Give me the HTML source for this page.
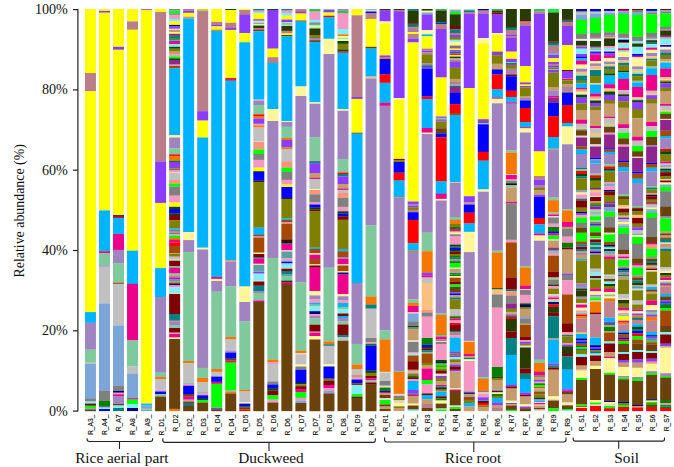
<!DOCTYPE html>
<html><head><meta charset="utf-8"><title>Relative abundance</title>
<style>
html,body{margin:0;padding:0;background:#fff;}
body{width:674px;height:467px;overflow:hidden;position:relative;font-family:"Liberation Serif",serif;}
svg{position:absolute;left:0;top:0;}
.yt{font-family:"Liberation Serif",serif;font-size:14.1px;fill:#111;}
.xl{font-family:"Liberation Sans",sans-serif;font-size:7.7px;fill:#111;stroke:#111;stroke-width:0.15;}
.gl{font-family:"Liberation Serif",serif;font-size:15.3px;fill:#111;}
.ax{stroke:#222;stroke-width:1.2;fill:none;}
.bk{stroke:#222;stroke-width:1.1;fill:none;}
</style></head><body>
<svg width="674" height="467" viewBox="0 0 674 467">
<rect x="0" y="0" width="674" height="467" fill="#ffffff"/>
<g style="filter:blur(0.3px)">
<g transform="translate(84.95,0)"><rect y="9.0" width="11.0" height="64.2" fill="#FFFF00"/><rect y="73.0" width="11.0" height="18.4" fill="#BA7E88"/><rect y="91.2" width="11.0" height="221.1" fill="#FFFF00"/><rect y="312.1" width="11.0" height="10.8" fill="#00B4FF"/><rect y="322.8" width="11.0" height="27.0" fill="#A084C0"/><rect y="349.7" width="11.0" height="13.1" fill="#7FC99C"/><rect y="362.6" width="11.0" height="1.5" fill="#C0C0C0"/><rect y="364.0" width="11.0" height="35.0" fill="#7CA5D8"/><rect y="398.8" width="11.0" height="2.8" fill="#808080"/><rect y="401.5" width="11.0" height="2.3" fill="#7FEFF5"/><rect y="403.6" width="11.0" height="2.2" fill="#800000"/><rect y="405.7" width="11.0" height="2.5" fill="#00FF00"/><rect y="408.0" width="11.0" height="1.5" fill="#7CA5D8"/><rect y="409.4" width="11.0" height="1.8" fill="#6B420C"/></g>
<g transform="translate(98.98,0)"><rect y="9.0" width="11.0" height="2.1" fill="#FFFF00"/><rect y="10.9" width="11.0" height="1.9" fill="#8C3CFF"/><rect y="12.7" width="11.0" height="197.9" fill="#FFFF00"/><rect y="210.4" width="11.0" height="40.9" fill="#00B4FF"/><rect y="251.2" width="11.0" height="2.0" fill="#EC008C"/><rect y="253.0" width="11.0" height="12.7" fill="#7FC99C"/><rect y="265.5" width="11.0" height="1.3" fill="#A084C0"/><rect y="266.7" width="11.0" height="36.8" fill="#C0C0C0"/><rect y="303.4" width="11.0" height="87.3" fill="#7CA5D8"/><rect y="390.5" width="11.0" height="10.3" fill="#808080"/><rect y="400.7" width="11.0" height="6.2" fill="#008000"/><rect y="406.7" width="11.0" height="1.1" fill="#A084C0"/><rect y="407.7" width="11.0" height="1.5" fill="#7FEFF5"/><rect y="409.0" width="11.0" height="2.1" fill="#0000FF"/></g>
<g transform="translate(113.01,0)"><rect y="9.0" width="11.0" height="37.9" fill="#FFFF00"/><rect y="46.8" width="11.0" height="3.1" fill="#8C3CFF"/><rect y="49.7" width="11.0" height="165.7" fill="#FFFF00"/><rect y="215.2" width="11.0" height="1.6" fill="#000080"/><rect y="216.6" width="11.0" height="1.6" fill="#FF0000"/><rect y="218.0" width="11.0" height="16.1" fill="#00B4FF"/><rect y="234.0" width="11.0" height="16.0" fill="#EC008C"/><rect y="249.8" width="11.0" height="13.5" fill="#A084C0"/><rect y="263.2" width="11.0" height="19.6" fill="#7FC99C"/><rect y="282.7" width="11.0" height="1.3" fill="#A54800"/><rect y="283.8" width="11.0" height="41.8" fill="#C0C0C0"/><rect y="325.5" width="11.0" height="60.3" fill="#7CA5D8"/><rect y="385.7" width="11.0" height="5.5" fill="#808080"/><rect y="391.0" width="11.0" height="1.8" fill="#000080"/><rect y="392.7" width="11.0" height="1.8" fill="#F497C3"/><rect y="394.3" width="11.0" height="1.8" fill="#EC008C"/><rect y="396.0" width="11.0" height="8.2" fill="#A084C0"/><rect y="404.0" width="11.0" height="1.6" fill="#6B420C"/><rect y="405.5" width="11.0" height="2.6" fill="#7FEFF5"/><rect y="408.0" width="11.0" height="3.1" fill="#008080"/></g>
<g transform="translate(127.04,0)"><rect y="9.0" width="11.0" height="12.5" fill="#FFFF00"/><rect y="21.4" width="11.0" height="8.5" fill="#BA7E88"/><rect y="29.7" width="11.0" height="221.2" fill="#FFFF00"/><rect y="250.7" width="11.0" height="33.3" fill="#00B4FF"/><rect y="283.8" width="11.0" height="56.7" fill="#EC008C"/><rect y="340.4" width="11.0" height="26.1" fill="#7FC99C"/><rect y="366.4" width="11.0" height="7.5" fill="#C0C0C0"/><rect y="373.7" width="11.0" height="24.6" fill="#7CA5D8"/><rect y="398.2" width="11.0" height="1.5" fill="#EC008C"/><rect y="399.5" width="11.0" height="4.7" fill="#00FF00"/><rect y="404.0" width="11.0" height="4.2" fill="#7FEFF5"/><rect y="408.0" width="11.0" height="3.1" fill="#000080"/></g>
<g transform="translate(141.07,0)"><rect y="9.0" width="11.0" height="1.0" fill="#8C3CFF"/><rect y="9.8" width="11.0" height="393.9" fill="#FFFF00"/><rect y="403.6" width="11.0" height="2.0" fill="#00B4FF"/><rect y="405.5" width="11.0" height="2.6" fill="#7CA5D8"/><rect y="408.0" width="11.0" height="1.6" fill="#7FC99C"/><rect y="409.5" width="11.0" height="1.6" fill="#7CA5D8"/></g>
<g transform="translate(155.10,0)"><rect y="9.0" width="11.0" height="3.1" fill="#FFFF00"/><rect y="12.0" width="11.0" height="149.7" fill="#BA7E88"/><rect y="161.5" width="11.0" height="41.6" fill="#8C3CFF"/><rect y="202.9" width="11.0" height="65.4" fill="#FFFF00"/><rect y="268.1" width="11.0" height="29.0" fill="#00B4FF"/><rect y="297.0" width="11.0" height="75.8" fill="#A084C0"/><rect y="372.6" width="11.0" height="4.5" fill="#7FC99C"/><rect y="377.0" width="11.0" height="2.1" fill="#F47800"/><rect y="379.0" width="11.0" height="10.7" fill="#C0C0C0"/><rect y="389.5" width="11.0" height="2.1" fill="#F497C3"/><rect y="391.5" width="11.0" height="2.6" fill="#0000FF"/><rect y="394.0" width="11.0" height="2.6" fill="#7FC99C"/><rect y="396.5" width="11.0" height="14.7" fill="#6B420C"/></g>
<g transform="translate(169.13,0)"><rect y="9.0" width="11.0" height="1.5" fill="#808080"/><rect y="10.3" width="11.0" height="3.7" fill="#20E840"/><rect y="13.9" width="11.0" height="1.6" fill="#BA7E88"/><rect y="15.3" width="11.0" height="3.7" fill="#F497C3"/><rect y="18.9" width="11.0" height="2.6" fill="#7FEFF5"/><rect y="21.4" width="11.0" height="3.6" fill="#FFFF00"/><rect y="24.9" width="11.0" height="1.6" fill="#000080"/><rect y="26.4" width="11.0" height="2.5" fill="#8C3CFF"/><rect y="28.7" width="11.0" height="1.3" fill="#E4D8C4"/><rect y="29.9" width="11.0" height="2.3" fill="#C69C6D"/><rect y="32.0" width="11.0" height="1.9" fill="#FFF599"/><rect y="33.8" width="11.0" height="1.4" fill="#FF0000"/><rect y="35.0" width="11.0" height="3.9" fill="#008080"/><rect y="38.8" width="11.0" height="1.6" fill="#808000"/><rect y="40.2" width="11.0" height="0.9" fill="#00B4FF"/><rect y="41.0" width="11.0" height="3.4" fill="#EC008C"/><rect y="44.2" width="11.0" height="2.7" fill="#7FEFF5"/><rect y="46.8" width="11.0" height="2.0" fill="#004800"/><rect y="48.6" width="11.0" height="3.1" fill="#808000"/><rect y="51.6" width="11.0" height="3.0" fill="#C69C6D"/><rect y="54.5" width="11.0" height="1.9" fill="#F497C3"/><rect y="56.3" width="11.0" height="2.3" fill="#00FF00"/><rect y="58.4" width="11.0" height="1.8" fill="#004800"/><rect y="60.0" width="11.0" height="4.7" fill="#8F268F"/><rect y="64.6" width="11.0" height="1.5" fill="#F497C3"/><rect y="65.9" width="11.0" height="2.4" fill="#A54800"/><rect y="68.2" width="11.0" height="67.1" fill="#00B4FF"/><rect y="135.2" width="11.0" height="2.5" fill="#FFF599"/><rect y="137.5" width="11.0" height="10.8" fill="#A084C0"/><rect y="148.2" width="11.0" height="6.4" fill="#7FC99C"/><rect y="154.4" width="11.0" height="1.6" fill="#FF0000"/><rect y="155.8" width="11.0" height="5.0" fill="#F47800"/><rect y="160.7" width="11.0" height="1.4" fill="#008000"/><rect y="161.9" width="11.0" height="6.7" fill="#8C3CFF"/><rect y="168.5" width="11.0" height="1.6" fill="#808000"/><rect y="170.0" width="11.0" height="2.1" fill="#F497C3"/><rect y="172.0" width="11.0" height="1.1" fill="#E4D8C4"/><rect y="173.0" width="11.0" height="7.2" fill="#C0C0C0"/><rect y="180.0" width="11.0" height="3.8" fill="#F8957A"/><rect y="183.7" width="11.0" height="3.1" fill="#00FF00"/><rect y="186.7" width="11.0" height="9.1" fill="#808080"/><rect y="195.6" width="11.0" height="7.0" fill="#F497C3"/><rect y="202.4" width="11.0" height="4.6" fill="#FFFF00"/><rect y="206.8" width="11.0" height="2.3" fill="#004800"/><rect y="209.0" width="11.0" height="4.6" fill="#0000FF"/><rect y="213.4" width="11.0" height="1.6" fill="#004800"/><rect y="214.8" width="11.0" height="5.5" fill="#800000"/><rect y="220.2" width="11.0" height="8.2" fill="#808000"/><rect y="228.2" width="11.0" height="1.6" fill="#00B4FF"/><rect y="229.7" width="11.0" height="1.6" fill="#808080"/><rect y="231.1" width="11.0" height="1.6" fill="#BA7E88"/><rect y="232.6" width="11.0" height="1.6" fill="#808080"/><rect y="234.0" width="11.0" height="1.6" fill="#F497C3"/><rect y="235.5" width="11.0" height="2.6" fill="#00FF00"/><rect y="238.0" width="11.0" height="2.0" fill="#F47800"/><rect y="239.8" width="11.0" height="2.7" fill="#EC008C"/><rect y="242.4" width="11.0" height="3.7" fill="#FF0000"/><rect y="246.0" width="11.0" height="7.2" fill="#A54800"/><rect y="253.0" width="11.0" height="0.7" fill="#E4D8C4"/><rect y="253.5" width="11.0" height="3.3" fill="#808000"/><rect y="256.6" width="11.0" height="3.1" fill="#C0C0C0"/><rect y="259.6" width="11.0" height="1.2" fill="#E4D8C4"/><rect y="260.7" width="11.0" height="5.8" fill="#800000"/><rect y="266.4" width="11.0" height="1.6" fill="#7FC99C"/><rect y="267.8" width="11.0" height="5.8" fill="#EC008C"/><rect y="273.5" width="11.0" height="2.1" fill="#7FC99C"/><rect y="275.5" width="11.0" height="2.1" fill="#BA7E88"/><rect y="277.5" width="11.0" height="2.1" fill="#EC008C"/><rect y="279.5" width="11.0" height="2.1" fill="#00B4FF"/><rect y="281.4" width="11.0" height="2.1" fill="#F47800"/><rect y="283.4" width="11.0" height="2.1" fill="#000080"/><rect y="285.4" width="11.0" height="2.1" fill="#F497C3"/><rect y="287.4" width="11.0" height="5.8" fill="#7FEFF5"/><rect y="293.0" width="11.0" height="1.1" fill="#E4D8C4"/><rect y="294.0" width="11.0" height="20.1" fill="#800000"/><rect y="314.0" width="11.0" height="6.0" fill="#008080"/><rect y="319.8" width="11.0" height="1.8" fill="#808080"/><rect y="321.5" width="11.0" height="4.2" fill="#A084C0"/><rect y="325.5" width="11.0" height="2.6" fill="#7FC99C"/><rect y="328.0" width="11.0" height="4.8" fill="#800000"/><rect y="332.7" width="11.0" height="1.1" fill="#E4D8C4"/><rect y="333.7" width="11.0" height="4.0" fill="#EC008C"/><rect y="337.5" width="11.0" height="1.6" fill="#FFF599"/><rect y="339.0" width="11.0" height="70.0" fill="#6B420C"/><rect y="408.8" width="11.0" height="2.3" fill="#F47800"/></g>
<g transform="translate(183.16,0)"><rect y="9.0" width="11.0" height="1.8" fill="#BA7E88"/><rect y="10.7" width="11.0" height="2.3" fill="#8C3CFF"/><rect y="12.8" width="11.0" height="4.0" fill="#FFFF00"/><rect y="16.6" width="11.0" height="0.7" fill="#7FC99C"/><rect y="17.2" width="11.0" height="0.8" fill="#BA7E88"/><rect y="17.8" width="11.0" height="0.7" fill="#F47800"/><rect y="18.4" width="11.0" height="213.8" fill="#00B4FF"/><rect y="232.1" width="11.0" height="8.2" fill="#FFF599"/><rect y="240.1" width="11.0" height="12.2" fill="#A084C0"/><rect y="252.1" width="11.0" height="109.1" fill="#7FC99C"/><rect y="361.0" width="11.0" height="2.3" fill="#F47800"/><rect y="363.2" width="11.0" height="19.3" fill="#C0C0C0"/><rect y="382.4" width="11.0" height="1.6" fill="#7FC99C"/><rect y="383.8" width="11.0" height="2.0" fill="#F497C3"/><rect y="385.7" width="11.0" height="8.5" fill="#0000FF"/><rect y="394.0" width="11.0" height="2.5" fill="#6B420C"/><rect y="396.3" width="11.0" height="3.5" fill="#EC008C"/><rect y="399.6" width="11.0" height="2.0" fill="#7FC99C"/><rect y="401.5" width="11.0" height="1.6" fill="#FF0000"/><rect y="403.0" width="11.0" height="3.1" fill="#008080"/><rect y="406.0" width="11.0" height="5.2" fill="#6B420C"/></g>
<g transform="translate(197.19,0)"><rect y="9.0" width="11.0" height="1.8" fill="#C8E000"/><rect y="10.7" width="11.0" height="100.7" fill="#BA7E88"/><rect y="111.2" width="11.0" height="9.5" fill="#8C3CFF"/><rect y="120.6" width="11.0" height="17.1" fill="#FFFF00"/><rect y="137.5" width="11.0" height="110.3" fill="#00B4FF"/><rect y="247.7" width="11.0" height="2.0" fill="#FFF599"/><rect y="249.5" width="11.0" height="118.5" fill="#A084C0"/><rect y="367.8" width="11.0" height="10.3" fill="#7FC99C"/><rect y="378.0" width="11.0" height="4.5" fill="#F47800"/><rect y="382.4" width="11.0" height="9.3" fill="#C0C0C0"/><rect y="391.5" width="11.0" height="1.6" fill="#7FC99C"/><rect y="393.0" width="11.0" height="2.5" fill="#F497C3"/><rect y="395.3" width="11.0" height="3.6" fill="#0000FF"/><rect y="398.8" width="11.0" height="1.3" fill="#004800"/><rect y="400.0" width="11.0" height="2.6" fill="#00FF00"/><rect y="402.5" width="11.0" height="8.7" fill="#6B420C"/></g>
<g transform="translate(211.22,0)"><rect y="9.0" width="11.0" height="13.0" fill="#FFFF00"/><rect y="21.9" width="11.0" height="2.9" fill="#BA7E88"/><rect y="24.6" width="11.0" height="1.9" fill="#8C3CFF"/><rect y="26.4" width="11.0" height="3.4" fill="#FFFF00"/><rect y="29.6" width="11.0" height="1.3" fill="#F47800"/><rect y="30.8" width="11.0" height="246.3" fill="#00B4FF"/><rect y="277.0" width="11.0" height="2.0" fill="#EC008C"/><rect y="278.8" width="11.0" height="2.3" fill="#FFF599"/><rect y="281.0" width="11.0" height="10.8" fill="#A084C0"/><rect y="291.6" width="11.0" height="77.5" fill="#7FC99C"/><rect y="369.0" width="11.0" height="3.0" fill="#F47800"/><rect y="371.8" width="11.0" height="5.0" fill="#C0C0C0"/><rect y="376.6" width="11.0" height="5.3" fill="#0000FF"/><rect y="381.8" width="11.0" height="2.1" fill="#EC008C"/><rect y="383.8" width="11.0" height="23.8" fill="#00FF00"/><rect y="407.5" width="11.0" height="1.1" fill="#808080"/><rect y="408.5" width="11.0" height="0.8" fill="#0000FF"/><rect y="409.2" width="11.0" height="2.0" fill="#6B420C"/></g>
<g transform="translate(225.25,0)"><rect y="9.0" width="11.0" height="1.1" fill="#004800"/><rect y="10.0" width="11.0" height="13.0" fill="#FFFF00"/><rect y="22.8" width="11.0" height="5.0" fill="#BA7E88"/><rect y="27.6" width="11.0" height="2.4" fill="#8C3CFF"/><rect y="29.9" width="11.0" height="48.2" fill="#FFFF00"/><rect y="78.0" width="11.0" height="2.9" fill="#E0203C"/><rect y="80.7" width="11.0" height="180.0" fill="#00B4FF"/><rect y="260.5" width="11.0" height="1.6" fill="#F8957A"/><rect y="262.0" width="11.0" height="24.5" fill="#A084C0"/><rect y="286.3" width="11.0" height="50.8" fill="#7FC99C"/><rect y="337.0" width="11.0" height="2.6" fill="#F47800"/><rect y="339.5" width="11.0" height="10.3" fill="#C0C0C0"/><rect y="349.7" width="11.0" height="1.5" fill="#F497C3"/><rect y="351.0" width="11.0" height="1.6" fill="#7CA5D8"/><rect y="352.5" width="11.0" height="6.3" fill="#0000FF"/><rect y="358.7" width="11.0" height="2.0" fill="#6B420C"/><rect y="360.5" width="11.0" height="2.3" fill="#E0203C"/><rect y="362.6" width="11.0" height="28.0" fill="#00FF00"/><rect y="390.5" width="11.0" height="1.1" fill="#7CA5D8"/><rect y="391.5" width="11.0" height="2.0" fill="#F47800"/><rect y="393.4" width="11.0" height="17.8" fill="#6B420C"/></g>
<g transform="translate(239.28,0)"><rect y="9.0" width="11.0" height="1.1" fill="#FFFF00"/><rect y="10.0" width="11.0" height="5.0" fill="#BA7E88"/><rect y="14.8" width="11.0" height="18.4" fill="#8C3CFF"/><rect y="33.1" width="11.0" height="8.5" fill="#FFFF00"/><rect y="41.5" width="11.0" height="1.0" fill="#C8E000"/><rect y="42.4" width="11.0" height="244.2" fill="#00B4FF"/><rect y="286.5" width="11.0" height="15.7" fill="#FFF599"/><rect y="302.0" width="11.0" height="19.6" fill="#A084C0"/><rect y="321.5" width="11.0" height="68.7" fill="#7FC99C"/><rect y="390.0" width="11.0" height="1.6" fill="#F47800"/><rect y="391.5" width="11.0" height="10.7" fill="#C0C0C0"/><rect y="402.0" width="11.0" height="1.8" fill="#FFF599"/><rect y="403.6" width="11.0" height="2.8" fill="#0000FF"/><rect y="406.3" width="11.0" height="1.3" fill="#004800"/><rect y="407.5" width="11.0" height="2.1" fill="#6B420C"/><rect y="409.5" width="11.0" height="1.6" fill="#FF0000"/></g>
<g transform="translate(253.31,0)"><rect y="9.0" width="11.0" height="1.6" fill="#008080"/><rect y="10.5" width="11.0" height="1.6" fill="#F497C3"/><rect y="12.0" width="11.0" height="1.6" fill="#7FEFF5"/><rect y="13.5" width="11.0" height="5.5" fill="#FFFF00"/><rect y="18.9" width="11.0" height="1.1" fill="#BA7E88"/><rect y="19.8" width="11.0" height="1.0" fill="#8C3CFF"/><rect y="20.7" width="11.0" height="1.0" fill="#A8E0A8"/><rect y="21.6" width="11.0" height="1.0" fill="#7FEFF5"/><rect y="22.5" width="11.0" height="1.0" fill="#C0C0C0"/><rect y="23.4" width="11.0" height="1.0" fill="#808000"/><rect y="24.2" width="11.0" height="1.0" fill="#FFF599"/><rect y="25.1" width="11.0" height="1.0" fill="#5F9EA0"/><rect y="26.0" width="11.0" height="2.1" fill="#283C00"/><rect y="28.0" width="11.0" height="1.8" fill="#BA7E88"/><rect y="29.6" width="11.0" height="1.8" fill="#6B420C"/><rect y="31.3" width="11.0" height="68.5" fill="#00B4FF"/><rect y="99.6" width="11.0" height="1.1" fill="#E4D8C4"/><rect y="100.5" width="11.0" height="4.7" fill="#A084C0"/><rect y="105.0" width="11.0" height="9.6" fill="#7FC99C"/><rect y="114.4" width="11.0" height="1.7" fill="#FF0000"/><rect y="116.0" width="11.0" height="2.6" fill="#F47800"/><rect y="118.5" width="11.0" height="5.4" fill="#8C3CFF"/><rect y="123.8" width="11.0" height="1.9" fill="#F497C3"/><rect y="125.5" width="11.0" height="2.1" fill="#F47800"/><rect y="127.4" width="11.0" height="13.7" fill="#C0C0C0"/><rect y="141.0" width="11.0" height="1.1" fill="#E4D8C4"/><rect y="142.0" width="11.0" height="7.7" fill="#F8957A"/><rect y="149.5" width="11.0" height="4.7" fill="#00FF00"/><rect y="154.0" width="11.0" height="6.0" fill="#808080"/><rect y="159.8" width="11.0" height="8.0" fill="#F497C3"/><rect y="167.7" width="11.0" height="3.6" fill="#FFFF00"/><rect y="171.2" width="11.0" height="1.0" fill="#004800"/><rect y="172.0" width="11.0" height="8.8" fill="#0000FF"/><rect y="180.7" width="11.0" height="1.9" fill="#402000"/><rect y="182.4" width="11.0" height="45.4" fill="#808000"/><rect y="227.7" width="11.0" height="7.3" fill="#00B4FF"/><rect y="234.8" width="11.0" height="1.8" fill="#A54800"/><rect y="236.5" width="11.0" height="1.1" fill="#F497C3"/><rect y="237.5" width="11.0" height="15.3" fill="#A54800"/><rect y="252.7" width="11.0" height="1.5" fill="#FFF599"/><rect y="254.0" width="11.0" height="3.1" fill="#800000"/><rect y="257.0" width="11.0" height="1.5" fill="#008080"/><rect y="258.4" width="11.0" height="5.5" fill="#EC008C"/><rect y="263.7" width="11.0" height="1.5" fill="#E4D8C4"/><rect y="265.0" width="11.0" height="6.0" fill="#5F9EA0"/><rect y="270.8" width="11.0" height="1.3" fill="#7CA5D8"/><rect y="272.0" width="11.0" height="1.3" fill="#8C3CFF"/><rect y="273.2" width="11.0" height="1.3" fill="#7CA5D8"/><rect y="274.4" width="11.0" height="6.4" fill="#7FEFF5"/><rect y="280.6" width="11.0" height="1.0" fill="#E4D8C4"/><rect y="281.5" width="11.0" height="4.3" fill="#800000"/><rect y="285.6" width="11.0" height="5.5" fill="#008080"/><rect y="291.0" width="11.0" height="2.1" fill="#A084C0"/><rect y="293.0" width="11.0" height="7.7" fill="#7FC99C"/><rect y="300.5" width="11.0" height="1.6" fill="#EC008C"/><rect y="302.0" width="11.0" height="109.2" fill="#6B420C"/></g>
<g transform="translate(267.34,0)"><rect y="9.0" width="11.0" height="1.1" fill="#004800"/><rect y="10.0" width="11.0" height="38.8" fill="#8C3CFF"/><rect y="48.6" width="11.0" height="8.8" fill="#FFFF00"/><rect y="57.2" width="11.0" height="5.8" fill="#BA7E88"/><rect y="62.9" width="11.0" height="46.2" fill="#00B4FF"/><rect y="109.0" width="11.0" height="12.2" fill="#FFF599"/><rect y="121.0" width="11.0" height="137.0" fill="#A084C0"/><rect y="257.8" width="11.0" height="102.0" fill="#7FC99C"/><rect y="359.7" width="11.0" height="2.5" fill="#F47800"/><rect y="362.0" width="11.0" height="2.1" fill="#F497C3"/><rect y="364.0" width="11.0" height="17.6" fill="#C0C0C0"/><rect y="381.5" width="11.0" height="3.1" fill="#808080"/><rect y="384.5" width="11.0" height="4.3" fill="#0000FF"/><rect y="388.6" width="11.0" height="2.0" fill="#004800"/><rect y="390.5" width="11.0" height="5.0" fill="#800000"/><rect y="395.3" width="11.0" height="4.5" fill="#00FF00"/><rect y="399.6" width="11.0" height="3.0" fill="#F497C3"/><rect y="402.5" width="11.0" height="8.7" fill="#6B420C"/></g>
<g transform="translate(281.37,0)"><rect y="9.0" width="11.0" height="1.6" fill="#008080"/><rect y="10.5" width="11.0" height="2.6" fill="#F497C3"/><rect y="13.0" width="11.0" height="2.8" fill="#7FEFF5"/><rect y="15.7" width="11.0" height="4.1" fill="#FFFF00"/><rect y="19.6" width="11.0" height="2.5" fill="#8C3CFF"/><rect y="22.0" width="11.0" height="1.5" fill="#A8E0A8"/><rect y="23.3" width="11.0" height="1.5" fill="#7CA5D8"/><rect y="24.7" width="11.0" height="1.5" fill="#A8E0A8"/><rect y="26.0" width="11.0" height="5.0" fill="#283C00"/><rect y="30.8" width="11.0" height="2.8" fill="#BA7E88"/><rect y="33.5" width="11.0" height="1.6" fill="#FFFF00"/><rect y="35.0" width="11.0" height="1.4" fill="#6B420C"/><rect y="36.2" width="11.0" height="85.0" fill="#00B4FF"/><rect y="121.1" width="11.0" height="1.1" fill="#FFF599"/><rect y="122.0" width="11.0" height="4.9" fill="#A084C0"/><rect y="126.8" width="11.0" height="11.4" fill="#7FC99C"/><rect y="138.0" width="11.0" height="2.1" fill="#F47800"/><rect y="140.0" width="11.0" height="7.5" fill="#8C3CFF"/><rect y="147.3" width="11.0" height="1.8" fill="#F47800"/><rect y="149.0" width="11.0" height="12.3" fill="#C0C0C0"/><rect y="161.2" width="11.0" height="6.7" fill="#F8957A"/><rect y="167.7" width="11.0" height="4.5" fill="#00FF00"/><rect y="172.0" width="11.0" height="8.0" fill="#808080"/><rect y="179.8" width="11.0" height="4.9" fill="#F497C3"/><rect y="184.6" width="11.0" height="2.6" fill="#FFFF00"/><rect y="187.0" width="11.0" height="11.2" fill="#0000FF"/><rect y="198.0" width="11.0" height="1.1" fill="#402000"/><rect y="199.0" width="11.0" height="19.6" fill="#808000"/><rect y="218.4" width="11.0" height="1.7" fill="#00B4FF"/><rect y="220.0" width="11.0" height="2.6" fill="#A54800"/><rect y="222.5" width="11.0" height="1.5" fill="#F497C3"/><rect y="223.8" width="11.0" height="15.7" fill="#A54800"/><rect y="239.4" width="11.0" height="3.7" fill="#400000"/><rect y="243.0" width="11.0" height="1.1" fill="#008080"/><rect y="244.0" width="11.0" height="6.5" fill="#EC008C"/><rect y="250.3" width="11.0" height="1.4" fill="#E4D8C4"/><rect y="251.6" width="11.0" height="6.9" fill="#5F9EA0"/><rect y="258.4" width="11.0" height="2.3" fill="#F497C3"/><rect y="260.5" width="11.0" height="1.5" fill="#7CA5D8"/><rect y="261.8" width="11.0" height="1.5" fill="#0000FF"/><rect y="263.2" width="11.0" height="1.5" fill="#7CA5D8"/><rect y="264.5" width="11.0" height="3.6" fill="#7FEFF5"/><rect y="268.0" width="11.0" height="0.8" fill="#E4D8C4"/><rect y="268.7" width="11.0" height="2.5" fill="#800000"/><rect y="271.0" width="11.0" height="3.6" fill="#008080"/><rect y="274.5" width="11.0" height="2.1" fill="#5F9EA0"/><rect y="276.5" width="11.0" height="4.3" fill="#7FC99C"/><rect y="280.6" width="11.0" height="1.5" fill="#004800"/><rect y="282.0" width="11.0" height="2.0" fill="#EC008C"/><rect y="283.8" width="11.0" height="127.3" fill="#6B420C"/></g>
<g transform="translate(295.40,0)"><rect y="9.0" width="11.0" height="1.1" fill="#A084C0"/><rect y="10.0" width="11.0" height="1.3" fill="#F47800"/><rect y="11.2" width="11.0" height="2.5" fill="#8C3CFF"/><rect y="13.5" width="11.0" height="6.8" fill="#FFFF00"/><rect y="20.1" width="11.0" height="1.0" fill="#F47800"/><rect y="21.0" width="11.0" height="65.6" fill="#00B4FF"/><rect y="86.4" width="11.0" height="9.7" fill="#FFF599"/><rect y="96.0" width="11.0" height="186.5" fill="#A084C0"/><rect y="282.4" width="11.0" height="68.4" fill="#7FC99C"/><rect y="350.6" width="11.0" height="2.5" fill="#F47800"/><rect y="353.0" width="11.0" height="1.5" fill="#E4D8C4"/><rect y="354.3" width="11.0" height="10.3" fill="#C0C0C0"/><rect y="364.5" width="11.0" height="2.1" fill="#FFF599"/><rect y="366.5" width="11.0" height="3.3" fill="#808080"/><rect y="369.7" width="11.0" height="13.3" fill="#0000FF"/><rect y="382.8" width="11.0" height="1.6" fill="#004800"/><rect y="384.3" width="11.0" height="2.0" fill="#808000"/><rect y="386.2" width="11.0" height="3.0" fill="#800000"/><rect y="389.0" width="11.0" height="3.1" fill="#EC008C"/><rect y="392.0" width="11.0" height="6.0" fill="#00FF00"/><rect y="397.8" width="11.0" height="2.8" fill="#F497C3"/><rect y="400.5" width="11.0" height="2.6" fill="#7CA5D8"/><rect y="403.0" width="11.0" height="8.2" fill="#6B420C"/></g>
<g transform="translate(309.43,0)"><rect y="9.0" width="11.0" height="2.7" fill="#30C050"/><rect y="11.6" width="11.0" height="8.4" fill="#F497C3"/><rect y="19.8" width="11.0" height="2.6" fill="#7FEFF5"/><rect y="22.3" width="11.0" height="1.3" fill="#BA7E88"/><rect y="23.5" width="11.0" height="1.3" fill="#008080"/><rect y="24.6" width="11.0" height="1.5" fill="#A8E0A8"/><rect y="25.9" width="11.0" height="1.4" fill="#FFF599"/><rect y="27.2" width="11.0" height="1.5" fill="#A8E0A8"/><rect y="28.5" width="11.0" height="6.7" fill="#283C00"/><rect y="35.0" width="11.0" height="3.6" fill="#808000"/><rect y="38.5" width="11.0" height="1.1" fill="#8C3CFF"/><rect y="39.5" width="11.0" height="0.9" fill="#BA7E88"/><rect y="40.2" width="11.0" height="1.8" fill="#6B420C"/><rect y="41.9" width="11.0" height="60.5" fill="#00B4FF"/><rect y="102.3" width="11.0" height="1.6" fill="#FFF599"/><rect y="103.7" width="11.0" height="33.9" fill="#A084C0"/><rect y="137.5" width="11.0" height="24.1" fill="#7FC99C"/><rect y="161.5" width="11.0" height="1.1" fill="#000080"/><rect y="162.5" width="11.0" height="1.3" fill="#008080"/><rect y="163.7" width="11.0" height="9.5" fill="#8C3CFF"/><rect y="173.0" width="11.0" height="5.0" fill="#C69C6D"/><rect y="177.8" width="11.0" height="1.2" fill="#EC008C"/><rect y="178.9" width="11.0" height="10.2" fill="#C0C0C0"/><rect y="189.0" width="11.0" height="1.1" fill="#FFF599"/><rect y="190.0" width="11.0" height="4.6" fill="#F8957A"/><rect y="194.4" width="11.0" height="8.2" fill="#808080"/><rect y="202.4" width="11.0" height="2.2" fill="#F497C3"/><rect y="204.5" width="11.0" height="3.3" fill="#0000FF"/><rect y="207.7" width="11.0" height="2.0" fill="#004800"/><rect y="209.5" width="11.0" height="1.6" fill="#800000"/><rect y="211.0" width="11.0" height="36.8" fill="#808000"/><rect y="247.7" width="11.0" height="1.5" fill="#00B4FF"/><rect y="249.0" width="11.0" height="4.2" fill="#A54800"/><rect y="253.0" width="11.0" height="2.0" fill="#E4D8C4"/><rect y="254.8" width="11.0" height="4.2" fill="#EC008C"/><rect y="258.9" width="11.0" height="5.5" fill="#A54800"/><rect y="264.2" width="11.0" height="1.5" fill="#E4D8C4"/><rect y="265.5" width="11.0" height="2.3" fill="#800000"/><rect y="267.6" width="11.0" height="23.5" fill="#EC008C"/><rect y="291.0" width="11.0" height="4.5" fill="#FFF599"/><rect y="295.4" width="11.0" height="4.1" fill="#A084C0"/><rect y="299.3" width="11.0" height="3.7" fill="#F497C3"/><rect y="302.9" width="11.0" height="1.9" fill="#00B4FF"/><rect y="304.6" width="11.0" height="2.0" fill="#7FC99C"/><rect y="306.5" width="11.0" height="4.8" fill="#7FEFF5"/><rect y="311.2" width="11.0" height="3.0" fill="#000080"/><rect y="314.0" width="11.0" height="2.1" fill="#F497C3"/><rect y="316.0" width="11.0" height="2.5" fill="#A084C0"/><rect y="318.3" width="11.0" height="6.7" fill="#7FC99C"/><rect y="324.8" width="11.0" height="7.0" fill="#800000"/><rect y="331.7" width="11.0" height="1.0" fill="#E4D8C4"/><rect y="332.5" width="11.0" height="3.6" fill="#EC008C"/><rect y="336.0" width="11.0" height="3.6" fill="#FFF599"/><rect y="339.5" width="11.0" height="71.7" fill="#6B420C"/></g>
<g transform="translate(323.46,0)"><rect y="9.0" width="11.0" height="1.1" fill="#7FC99C"/><rect y="10.0" width="11.0" height="2.6" fill="#8C3CFF"/><rect y="12.5" width="11.0" height="3.3" fill="#FFFF00"/><rect y="15.7" width="11.0" height="1.5" fill="#FF0000"/><rect y="17.0" width="11.0" height="21.9" fill="#00B4FF"/><rect y="38.8" width="11.0" height="15.4" fill="#FFF599"/><rect y="54.0" width="11.0" height="213.8" fill="#A084C0"/><rect y="267.6" width="11.0" height="73.9" fill="#7FC99C"/><rect y="341.4" width="11.0" height="3.1" fill="#F47800"/><rect y="344.3" width="11.0" height="1.6" fill="#008080"/><rect y="345.8" width="11.0" height="18.3" fill="#C0C0C0"/><rect y="364.0" width="11.0" height="2.6" fill="#FFF599"/><rect y="366.5" width="11.0" height="12.3" fill="#0000FF"/><rect y="378.6" width="11.0" height="2.0" fill="#808000"/><rect y="380.5" width="11.0" height="4.7" fill="#800000"/><rect y="385.0" width="11.0" height="3.3" fill="#EC008C"/><rect y="388.2" width="11.0" height="3.0" fill="#F497C3"/><rect y="391.0" width="11.0" height="2.5" fill="#7CA5D8"/><rect y="393.4" width="11.0" height="17.8" fill="#6B420C"/></g>
<g transform="translate(337.49,0)"><rect y="9.0" width="11.0" height="1.8" fill="#A084C0"/><rect y="10.7" width="11.0" height="2.5" fill="#30C050"/><rect y="13.0" width="11.0" height="16.1" fill="#F497C3"/><rect y="29.0" width="11.0" height="5.5" fill="#7FEFF5"/><rect y="34.4" width="11.0" height="1.8" fill="#F47800"/><rect y="36.0" width="11.0" height="1.8" fill="#FFF599"/><rect y="37.7" width="11.0" height="1.8" fill="#A8E0A8"/><rect y="39.4" width="11.0" height="1.8" fill="#FFF599"/><rect y="41.0" width="11.0" height="2.9" fill="#004800"/><rect y="43.8" width="11.0" height="5.9" fill="#808000"/><rect y="49.5" width="11.0" height="2.1" fill="#004800"/><rect y="51.5" width="11.0" height="1.4" fill="#FF0000"/><rect y="52.7" width="11.0" height="56.4" fill="#00B4FF"/><rect y="109.0" width="11.0" height="1.9" fill="#FFF599"/><rect y="110.8" width="11.0" height="48.3" fill="#A084C0"/><rect y="158.9" width="11.0" height="13.7" fill="#7FC99C"/><rect y="172.5" width="11.0" height="1.6" fill="#FF0000"/><rect y="174.0" width="11.0" height="2.6" fill="#008080"/><rect y="176.5" width="11.0" height="7.7" fill="#8C3CFF"/><rect y="184.0" width="11.0" height="4.7" fill="#C69C6D"/><rect y="188.5" width="11.0" height="1.5" fill="#EC008C"/><rect y="189.8" width="11.0" height="3.3" fill="#C0C0C0"/><rect y="193.0" width="11.0" height="5.2" fill="#F8957A"/><rect y="198.0" width="11.0" height="9.0" fill="#808080"/><rect y="206.8" width="11.0" height="4.7" fill="#F497C3"/><rect y="211.3" width="11.0" height="2.4" fill="#004800"/><rect y="213.6" width="11.0" height="2.9" fill="#0000FF"/><rect y="216.3" width="11.0" height="3.6" fill="#800000"/><rect y="219.8" width="11.0" height="29.3" fill="#808000"/><rect y="249.0" width="11.0" height="2.3" fill="#00B4FF"/><rect y="251.2" width="11.0" height="6.0" fill="#A54800"/><rect y="257.0" width="11.0" height="2.1" fill="#A084C0"/><rect y="259.0" width="11.0" height="5.3" fill="#EC008C"/><rect y="264.2" width="11.0" height="1.5" fill="#E4D8C4"/><rect y="265.5" width="11.0" height="6.0" fill="#A54800"/><rect y="271.3" width="11.0" height="1.3" fill="#FFF599"/><rect y="272.5" width="11.0" height="2.1" fill="#000080"/><rect y="274.5" width="11.0" height="19.6" fill="#EC008C"/><rect y="294.0" width="11.0" height="2.5" fill="#FFF599"/><rect y="296.3" width="11.0" height="4.0" fill="#A084C0"/><rect y="300.2" width="11.0" height="3.0" fill="#F497C3"/><rect y="303.0" width="11.0" height="4.2" fill="#00B4FF"/><rect y="307.0" width="11.0" height="2.1" fill="#7FC99C"/><rect y="309.0" width="11.0" height="4.7" fill="#7FEFF5"/><rect y="313.5" width="11.0" height="2.6" fill="#800000"/><rect y="316.0" width="11.0" height="2.1" fill="#00B4FF"/><rect y="318.0" width="11.0" height="3.6" fill="#A084C0"/><rect y="321.5" width="11.0" height="3.1" fill="#7FC99C"/><rect y="324.5" width="11.0" height="10.7" fill="#800000"/><rect y="335.0" width="11.0" height="2.1" fill="#008080"/><rect y="337.0" width="11.0" height="4.0" fill="#C0C0C0"/><rect y="340.8" width="11.0" height="70.3" fill="#6B420C"/></g>
<g transform="translate(351.52,0)"><rect y="9.0" width="11.0" height="6.5" fill="#FFFF00"/><rect y="15.3" width="11.0" height="81.9" fill="#BA7E88"/><rect y="97.0" width="11.0" height="2.1" fill="#8C3CFF"/><rect y="98.9" width="11.0" height="33.9" fill="#FFFF00"/><rect y="132.7" width="11.0" height="1.1" fill="#6B420C"/><rect y="133.6" width="11.0" height="149.6" fill="#00B4FF"/><rect y="283.0" width="11.0" height="61.0" fill="#A084C0"/><rect y="343.9" width="11.0" height="20.8" fill="#7FC99C"/><rect y="364.5" width="11.0" height="4.7" fill="#F47800"/><rect y="369.0" width="11.0" height="5.8" fill="#C0C0C0"/><rect y="374.7" width="11.0" height="2.5" fill="#C69C6D"/><rect y="377.0" width="11.0" height="2.6" fill="#F497C3"/><rect y="379.5" width="11.0" height="3.8" fill="#0000FF"/><rect y="383.2" width="11.0" height="2.1" fill="#6B420C"/><rect y="385.2" width="11.0" height="9.0" fill="#7FEFF5"/><rect y="394.0" width="11.0" height="3.0" fill="#00FF00"/><rect y="396.8" width="11.0" height="2.0" fill="#800000"/><rect y="398.6" width="11.0" height="12.5" fill="#6B420C"/></g>
<g transform="translate(365.55,0)"><rect y="9.0" width="11.0" height="1.1" fill="#7FC99C"/><rect y="10.0" width="11.0" height="1.6" fill="#E4D8C4"/><rect y="11.5" width="11.0" height="1.6" fill="#0000FF"/><rect y="13.0" width="11.0" height="6.0" fill="#BA7E88"/><rect y="18.9" width="11.0" height="28.0" fill="#FFFF00"/><rect y="46.8" width="11.0" height="1.8" fill="#6B420C"/><rect y="48.4" width="11.0" height="28.3" fill="#00B4FF"/><rect y="76.6" width="11.0" height="2.1" fill="#FAC080"/><rect y="78.5" width="11.0" height="146.8" fill="#A084C0"/><rect y="225.2" width="11.0" height="71.6" fill="#7FC99C"/><rect y="296.6" width="11.0" height="8.2" fill="#F47800"/><rect y="304.6" width="11.0" height="4.2" fill="#008080"/><rect y="308.6" width="11.0" height="29.5" fill="#C0C0C0"/><rect y="338.0" width="11.0" height="4.5" fill="#808080"/><rect y="342.3" width="11.0" height="1.6" fill="#F497C3"/><rect y="343.8" width="11.0" height="1.8" fill="#008000"/><rect y="345.5" width="11.0" height="25.3" fill="#0000FF"/><rect y="370.7" width="11.0" height="2.3" fill="#004800"/><rect y="372.8" width="11.0" height="3.3" fill="#808000"/><rect y="376.0" width="11.0" height="2.3" fill="#800000"/><rect y="378.2" width="11.0" height="2.3" fill="#EC008C"/><rect y="380.4" width="11.0" height="2.3" fill="#7FC99C"/><rect y="382.5" width="11.0" height="2.3" fill="#800000"/><rect y="384.7" width="11.0" height="26.5" fill="#6B420C"/></g>
<g transform="translate(379.58,0)"><rect y="9.0" width="11.0" height="1.5" fill="#283C00"/><rect y="10.3" width="11.0" height="11.2" fill="#8C3CFF"/><rect y="21.4" width="11.0" height="2.5" fill="#FFF599"/><rect y="23.7" width="11.0" height="31.8" fill="#FFFF00"/><rect y="55.4" width="11.0" height="2.3" fill="#8C3CFF"/><rect y="57.5" width="11.0" height="1.6" fill="#F47800"/><rect y="59.0" width="11.0" height="15.6" fill="#0000FF"/><rect y="74.4" width="11.0" height="8.5" fill="#FF0000"/><rect y="82.8" width="11.0" height="20.1" fill="#00B4FF"/><rect y="102.8" width="11.0" height="3.1" fill="#EC008C"/><rect y="105.8" width="11.0" height="224.5" fill="#A084C0"/><rect y="330.2" width="11.0" height="9.5" fill="#7FC99C"/><rect y="339.5" width="11.0" height="32.5" fill="#F47800"/><rect y="371.8" width="11.0" height="1.3" fill="#E4D8C4"/><rect y="373.0" width="11.0" height="8.2" fill="#C0C0C0"/><rect y="381.0" width="11.0" height="4.8" fill="#808080"/><rect y="385.7" width="11.0" height="2.1" fill="#E4D8C4"/><rect y="387.6" width="11.0" height="3.5" fill="#008000"/><rect y="391.0" width="11.0" height="1.1" fill="#0000FF"/><rect y="392.0" width="11.0" height="1.1" fill="#EC008C"/><rect y="393.0" width="11.0" height="2.1" fill="#C69C6D"/><rect y="395.0" width="11.0" height="3.1" fill="#6B420C"/><rect y="398.0" width="11.0" height="2.1" fill="#E4D8C4"/><rect y="400.0" width="11.0" height="4.5" fill="#00FF00"/><rect y="404.4" width="11.0" height="2.3" fill="#6B420C"/><rect y="406.5" width="11.0" height="2.6" fill="#C69C6D"/><rect y="409.0" width="11.0" height="2.1" fill="#6B420C"/></g>
<g transform="translate(393.61,0)"><rect y="9.0" width="11.0" height="1.1" fill="#283C00"/><rect y="10.0" width="11.0" height="1.3" fill="#BA7E88"/><rect y="11.2" width="11.0" height="87.0" fill="#8C3CFF"/><rect y="98.0" width="11.0" height="2.1" fill="#FFF599"/><rect y="100.0" width="11.0" height="59.1" fill="#FFFF00"/><rect y="158.9" width="11.0" height="1.6" fill="#800000"/><rect y="160.3" width="11.0" height="1.8" fill="#808000"/><rect y="162.0" width="11.0" height="10.8" fill="#0000FF"/><rect y="172.7" width="11.0" height="8.0" fill="#FF0000"/><rect y="180.5" width="11.0" height="16.6" fill="#00B4FF"/><rect y="197.0" width="11.0" height="1.1" fill="#C69C6D"/><rect y="198.0" width="11.0" height="173.0" fill="#A084C0"/><rect y="370.9" width="11.0" height="1.3" fill="#7FC99C"/><rect y="372.0" width="11.0" height="22.0" fill="#F47800"/><rect y="393.8" width="11.0" height="2.1" fill="#E4D8C4"/><rect y="395.8" width="11.0" height="2.5" fill="#808080"/><rect y="398.2" width="11.0" height="2.3" fill="#808000"/><rect y="400.3" width="11.0" height="2.8" fill="#E4D8C4"/><rect y="403.0" width="11.0" height="3.5" fill="#FFF599"/><rect y="406.3" width="11.0" height="1.8" fill="#808000"/><rect y="408.0" width="11.0" height="3.1" fill="#C69C6D"/></g>
<g transform="translate(407.64,0)"><rect y="9.0" width="11.0" height="1.8" fill="#008080"/><rect y="10.7" width="11.0" height="12.8" fill="#283C00"/><rect y="23.3" width="11.0" height="1.5" fill="#800000"/><rect y="24.6" width="11.0" height="2.8" fill="#008080"/><rect y="27.3" width="11.0" height="3.6" fill="#BA7E88"/><rect y="30.8" width="11.0" height="1.1" fill="#8C3CFF"/><rect y="31.8" width="11.0" height="2.3" fill="#FFFF00"/><rect y="34.0" width="11.0" height="4.9" fill="#BA7E88"/><rect y="38.8" width="11.0" height="3.8" fill="#8C3CFF"/><rect y="42.4" width="11.0" height="159.2" fill="#FFFF00"/><rect y="201.5" width="11.0" height="2.6" fill="#8C3CFF"/><rect y="204.0" width="11.0" height="1.6" fill="#A084C0"/><rect y="205.5" width="11.0" height="1.8" fill="#8C3CFF"/><rect y="207.2" width="11.0" height="3.0" fill="#808000"/><rect y="210.0" width="11.0" height="2.3" fill="#BA7E88"/><rect y="212.2" width="11.0" height="7.8" fill="#0000FF"/><rect y="219.8" width="11.0" height="23.6" fill="#FF0000"/><rect y="243.3" width="11.0" height="7.5" fill="#00B4FF"/><rect y="250.7" width="11.0" height="1.3" fill="#F47800"/><rect y="251.8" width="11.0" height="47.6" fill="#A084C0"/><rect y="299.3" width="11.0" height="3.7" fill="#7FC99C"/><rect y="302.9" width="11.0" height="3.3" fill="#F47800"/><rect y="306.0" width="11.0" height="6.5" fill="#EC008C"/><rect y="312.3" width="11.0" height="1.3" fill="#E4D8C4"/><rect y="313.5" width="11.0" height="8.3" fill="#7CA5D8"/><rect y="321.6" width="11.0" height="4.5" fill="#808080"/><rect y="326.0" width="11.0" height="1.6" fill="#004800"/><rect y="327.5" width="11.0" height="2.1" fill="#808080"/><rect y="329.5" width="11.0" height="10.7" fill="#C69C6D"/><rect y="340.0" width="11.0" height="2.1" fill="#E4D8C4"/><rect y="342.0" width="11.0" height="10.2" fill="#808080"/><rect y="352.0" width="11.0" height="1.6" fill="#F497C3"/><rect y="353.5" width="11.0" height="2.1" fill="#7FEFF5"/><rect y="355.5" width="11.0" height="5.8" fill="#A54800"/><rect y="361.2" width="11.0" height="8.7" fill="#800000"/><rect y="369.7" width="11.0" height="2.0" fill="#C69C6D"/><rect y="371.6" width="11.0" height="2.0" fill="#F497C3"/><rect y="373.5" width="11.0" height="2.0" fill="#808000"/><rect y="375.4" width="11.0" height="2.0" fill="#008000"/><rect y="377.2" width="11.0" height="2.0" fill="#800000"/><rect y="379.1" width="11.0" height="2.0" fill="#F497C3"/><rect y="381.0" width="11.0" height="9.2" fill="#00B4FF"/><rect y="390.0" width="11.0" height="3.5" fill="#8C3CFF"/><rect y="393.4" width="11.0" height="1.3" fill="#008080"/><rect y="394.5" width="11.0" height="1.6" fill="#EC008C"/><rect y="396.0" width="11.0" height="7.8" fill="#C69C6D"/><rect y="403.6" width="11.0" height="2.0" fill="#FFF599"/><rect y="405.5" width="11.0" height="4.2" fill="#6B420C"/><rect y="409.5" width="11.0" height="1.6" fill="#7FEFF5"/></g>
<g transform="translate(421.67,0)"><rect y="9.0" width="11.0" height="1.8" fill="#283C00"/><rect y="10.7" width="11.0" height="2.0" fill="#FFF599"/><rect y="12.5" width="11.0" height="2.5" fill="#7CA5D8"/><rect y="14.8" width="11.0" height="15.3" fill="#8C3CFF"/><rect y="30.0" width="11.0" height="4.5" fill="#FFF599"/><rect y="34.4" width="11.0" height="2.0" fill="#00B4FF"/><rect y="36.3" width="11.0" height="12.5" fill="#FFFF00"/><rect y="48.6" width="11.0" height="2.0" fill="#BA7E88"/><rect y="50.5" width="11.0" height="2.0" fill="#8C3CFF"/><rect y="52.4" width="11.0" height="2.0" fill="#BA7E88"/><rect y="54.3" width="11.0" height="9.3" fill="#808000"/><rect y="63.4" width="11.0" height="1.9" fill="#BA7E88"/><rect y="65.2" width="11.0" height="1.9" fill="#008080"/><rect y="66.9" width="11.0" height="1.9" fill="#8C3CFF"/><rect y="68.7" width="11.0" height="28.0" fill="#0000FF"/><rect y="96.6" width="11.0" height="2.8" fill="#FF0000"/><rect y="99.2" width="11.0" height="28.9" fill="#00B4FF"/><rect y="128.0" width="11.0" height="4.8" fill="#EC008C"/><rect y="132.7" width="11.0" height="1.5" fill="#FFF599"/><rect y="134.0" width="11.0" height="98.8" fill="#A084C0"/><rect y="232.7" width="11.0" height="18.6" fill="#7FC99C"/><rect y="251.2" width="11.0" height="21.6" fill="#F47800"/><rect y="272.6" width="11.0" height="2.8" fill="#8C3CFF"/><rect y="275.3" width="11.0" height="2.3" fill="#EC008C"/><rect y="277.5" width="11.0" height="5.7" fill="#C0C0C0"/><rect y="283.0" width="11.0" height="27.1" fill="#FAC080"/><rect y="310.0" width="11.0" height="2.6" fill="#F8957A"/><rect y="312.5" width="11.0" height="4.3" fill="#808080"/><rect y="316.6" width="11.0" height="21.5" fill="#F497C3"/><rect y="338.0" width="11.0" height="6.8" fill="#008000"/><rect y="344.7" width="11.0" height="2.5" fill="#0000FF"/><rect y="347.0" width="11.0" height="1.8" fill="#283C00"/><rect y="348.6" width="11.0" height="1.8" fill="#800000"/><rect y="350.2" width="11.0" height="1.8" fill="#008080"/><rect y="351.9" width="11.0" height="1.8" fill="#7FC99C"/><rect y="353.5" width="11.0" height="9.7" fill="#A54800"/><rect y="363.0" width="11.0" height="2.6" fill="#808000"/><rect y="365.5" width="11.0" height="3.1" fill="#C69C6D"/><rect y="368.5" width="11.0" height="11.7" fill="#EC008C"/><rect y="380.0" width="11.0" height="4.5" fill="#00FF00"/><rect y="384.3" width="11.0" height="9.2" fill="#F497C3"/><rect y="393.4" width="11.0" height="1.8" fill="#800000"/><rect y="395.0" width="11.0" height="4.3" fill="#00B4FF"/><rect y="399.2" width="11.0" height="5.0" fill="#C69C6D"/><rect y="404.0" width="11.0" height="4.2" fill="#BA7E88"/><rect y="408.0" width="11.0" height="3.1" fill="#6B420C"/></g>
<g transform="translate(435.70,0)"><rect y="9.0" width="11.0" height="1.6" fill="#30C050"/><rect y="10.5" width="11.0" height="11.7" fill="#283C00"/><rect y="22.0" width="11.0" height="1.1" fill="#008080"/><rect y="23.0" width="11.0" height="1.0" fill="#0000FF"/><rect y="23.8" width="11.0" height="5.3" fill="#BA7E88"/><rect y="29.0" width="11.0" height="48.6" fill="#8C3CFF"/><rect y="77.5" width="11.0" height="39.1" fill="#FFFF00"/><rect y="116.5" width="11.0" height="1.4" fill="#8C3CFF"/><rect y="117.8" width="11.0" height="1.4" fill="#7FC99C"/><rect y="119.0" width="11.0" height="1.4" fill="#A084C0"/><rect y="120.2" width="11.0" height="1.4" fill="#8C3CFF"/><rect y="121.5" width="11.0" height="7.0" fill="#808000"/><rect y="128.3" width="11.0" height="5.2" fill="#6B420C"/><rect y="133.4" width="11.0" height="3.9" fill="#0000FF"/><rect y="137.2" width="11.0" height="44.4" fill="#FF0000"/><rect y="181.4" width="11.0" height="12.6" fill="#00B4FF"/><rect y="193.8" width="11.0" height="5.2" fill="#EC008C"/><rect y="198.8" width="11.0" height="1.8" fill="#FFF599"/><rect y="200.5" width="11.0" height="113.2" fill="#A084C0"/><rect y="313.5" width="11.0" height="1.6" fill="#7FC99C"/><rect y="315.0" width="11.0" height="19.3" fill="#F47800"/><rect y="334.2" width="11.0" height="1.5" fill="#808000"/><rect y="335.5" width="11.0" height="1.1" fill="#7FC99C"/><rect y="336.5" width="11.0" height="2.5" fill="#EC008C"/><rect y="338.9" width="11.0" height="2.3" fill="#BA7E88"/><rect y="341.0" width="11.0" height="1.1" fill="#E4D8C4"/><rect y="342.0" width="11.0" height="2.1" fill="#808080"/><rect y="344.0" width="11.0" height="16.1" fill="#F497C3"/><rect y="360.0" width="11.0" height="2.1" fill="#004800"/><rect y="362.0" width="11.0" height="1.6" fill="#000080"/><rect y="363.5" width="11.0" height="1.9" fill="#00FF00"/><rect y="365.2" width="11.0" height="1.9" fill="#808000"/><rect y="367.0" width="11.0" height="1.9" fill="#00FF00"/><rect y="368.8" width="11.0" height="1.9" fill="#808000"/><rect y="370.5" width="11.0" height="3.3" fill="#800000"/><rect y="373.7" width="11.0" height="2.5" fill="#E4D8C4"/><rect y="376.0" width="11.0" height="2.1" fill="#8C3CFF"/><rect y="378.0" width="11.0" height="3.5" fill="#808000"/><rect y="381.3" width="11.0" height="3.8" fill="#C69C6D"/><rect y="385.0" width="11.0" height="1.5" fill="#EC008C"/><rect y="386.4" width="11.0" height="1.6" fill="#008080"/><rect y="387.8" width="11.0" height="1.5" fill="#800000"/><rect y="389.2" width="11.0" height="1.6" fill="#008000"/><rect y="390.6" width="11.0" height="1.5" fill="#C69C6D"/><rect y="392.0" width="11.0" height="4.5" fill="#00B4FF"/><rect y="396.3" width="11.0" height="2.3" fill="#800000"/><rect y="398.5" width="11.0" height="2.1" fill="#008000"/><rect y="400.5" width="11.0" height="3.3" fill="#FFF599"/><rect y="403.6" width="11.0" height="5.0" fill="#6B420C"/><rect y="408.5" width="11.0" height="1.1" fill="#E4D8C4"/><rect y="409.5" width="11.0" height="1.6" fill="#00FF00"/></g>
<g transform="translate(449.73,0)"><rect y="9.0" width="11.0" height="1.1" fill="#E4D8C4"/><rect y="10.0" width="11.0" height="2.0" fill="#7CA5D8"/><rect y="11.8" width="11.0" height="2.6" fill="#00FF00"/><rect y="14.3" width="11.0" height="11.8" fill="#283C00"/><rect y="26.0" width="11.0" height="3.5" fill="#800000"/><rect y="29.4" width="11.0" height="3.8" fill="#008080"/><rect y="33.0" width="11.0" height="2.1" fill="#BA7E88"/><rect y="35.0" width="11.0" height="2.1" fill="#8C3CFF"/><rect y="37.0" width="11.0" height="2.9" fill="#808000"/><rect y="39.7" width="11.0" height="2.2" fill="#7FEFF5"/><rect y="41.8" width="11.0" height="4.0" fill="#FFF599"/><rect y="45.6" width="11.0" height="1.6" fill="#808000"/><rect y="47.1" width="11.0" height="1.6" fill="#8C3CFF"/><rect y="48.6" width="11.0" height="1.6" fill="#FFFF00"/><rect y="50.1" width="11.0" height="1.6" fill="#8C3CFF"/><rect y="51.6" width="11.0" height="1.8" fill="#008080"/><rect y="53.3" width="11.0" height="1.8" fill="#EC008C"/><rect y="54.9" width="11.0" height="1.8" fill="#FFFF00"/><rect y="56.6" width="11.0" height="2.0" fill="#004800"/><rect y="58.5" width="11.0" height="0.9" fill="#E4D8C4"/><rect y="59.3" width="11.0" height="2.5" fill="#BA7E88"/><rect y="61.6" width="11.0" height="6.3" fill="#8C3CFF"/><rect y="67.7" width="11.0" height="11.4" fill="#808000"/><rect y="78.9" width="11.0" height="3.2" fill="#C69C6D"/><rect y="82.0" width="11.0" height="2.4" fill="#BA7E88"/><rect y="84.2" width="11.0" height="1.9" fill="#7CA5D8"/><rect y="86.0" width="11.0" height="0.9" fill="#008000"/><rect y="86.8" width="11.0" height="6.1" fill="#8F268F"/><rect y="92.7" width="11.0" height="11.7" fill="#0000FF"/><rect y="104.2" width="11.0" height="8.9" fill="#FF0000"/><rect y="113.0" width="11.0" height="2.1" fill="#A54800"/><rect y="115.0" width="11.0" height="67.2" fill="#00B4FF"/><rect y="182.0" width="11.0" height="1.0" fill="#E4D8C4"/><rect y="182.8" width="11.0" height="34.3" fill="#A084C0"/><rect y="217.0" width="11.0" height="3.0" fill="#7FC99C"/><rect y="219.8" width="11.0" height="4.3" fill="#F47800"/><rect y="224.0" width="11.0" height="3.1" fill="#808000"/><rect y="227.0" width="11.0" height="2.1" fill="#008000"/><rect y="229.0" width="11.0" height="2.0" fill="#EC008C"/><rect y="230.8" width="11.0" height="1.8" fill="#C69C6D"/><rect y="232.5" width="11.0" height="2.0" fill="#FFF599"/><rect y="234.3" width="11.0" height="1.7" fill="#808080"/><rect y="235.9" width="11.0" height="8.8" fill="#F497C3"/><rect y="244.6" width="11.0" height="2.1" fill="#004800"/><rect y="246.5" width="11.0" height="1.1" fill="#008000"/><rect y="247.5" width="11.0" height="2.6" fill="#0000FF"/><rect y="250.0" width="11.0" height="1.7" fill="#004800"/><rect y="251.6" width="11.0" height="2.6" fill="#800000"/><rect y="254.0" width="11.0" height="2.0" fill="#808000"/><rect y="255.8" width="11.0" height="2.0" fill="#008000"/><rect y="257.6" width="11.0" height="1.9" fill="#008080"/><rect y="259.4" width="11.0" height="2.0" fill="#BA7E88"/><rect y="261.2" width="11.0" height="2.0" fill="#008000"/><rect y="263.0" width="11.0" height="4.8" fill="#00FF00"/><rect y="267.6" width="11.0" height="1.5" fill="#E4D8C4"/><rect y="269.0" width="11.0" height="4.2" fill="#C69C6D"/><rect y="273.0" width="11.0" height="1.6" fill="#008080"/><rect y="274.5" width="11.0" height="1.6" fill="#008000"/><rect y="276.0" width="11.0" height="1.8" fill="#FFF599"/><rect y="277.7" width="11.0" height="4.5" fill="#A54800"/><rect y="282.0" width="11.0" height="2.6" fill="#800000"/><rect y="284.5" width="11.0" height="2.6" fill="#00FF00"/><rect y="287.0" width="11.0" height="5.3" fill="#6B420C"/><rect y="292.2" width="11.0" height="1.5" fill="#8C3CFF"/><rect y="293.5" width="11.0" height="1.6" fill="#0000FF"/><rect y="295.0" width="11.0" height="2.6" fill="#C69C6D"/><rect y="297.5" width="11.0" height="2.1" fill="#008080"/><rect y="299.5" width="11.0" height="10.0" fill="#808000"/><rect y="309.4" width="11.0" height="6.7" fill="#C0C0C0"/><rect y="315.9" width="11.0" height="1.3" fill="#808000"/><rect y="317.0" width="11.0" height="1.6" fill="#008000"/><rect y="318.5" width="11.0" height="2.1" fill="#EC008C"/><rect y="320.5" width="11.0" height="2.6" fill="#F497C3"/><rect y="323.0" width="11.0" height="2.1" fill="#FF0000"/><rect y="325.0" width="11.0" height="6.0" fill="#800000"/><rect y="330.8" width="11.0" height="1.8" fill="#008080"/><rect y="332.5" width="11.0" height="2.6" fill="#BA7E88"/><rect y="335.0" width="11.0" height="2.6" fill="#F497C3"/><rect y="337.5" width="11.0" height="14.3" fill="#00B4FF"/><rect y="351.6" width="11.0" height="2.0" fill="#8C3CFF"/><rect y="353.4" width="11.0" height="1.9" fill="#808000"/><rect y="355.2" width="11.0" height="2.0" fill="#8C3CFF"/><rect y="357.0" width="11.0" height="2.5" fill="#7FEFF5"/><rect y="359.3" width="11.0" height="2.8" fill="#808000"/><rect y="362.0" width="11.0" height="2.6" fill="#C69C6D"/><rect y="364.5" width="11.0" height="2.0" fill="#8C3CFF"/><rect y="366.4" width="11.0" height="3.5" fill="#800000"/><rect y="369.7" width="11.0" height="1.6" fill="#8C3CFF"/><rect y="371.2" width="11.0" height="17.1" fill="#C69C6D"/><rect y="388.2" width="11.0" height="1.5" fill="#FFF599"/><rect y="389.5" width="11.0" height="1.5" fill="#EC008C"/><rect y="390.8" width="11.0" height="14.8" fill="#6B420C"/><rect y="405.5" width="11.0" height="1.6" fill="#E4D8C4"/><rect y="407.0" width="11.0" height="2.1" fill="#00FF00"/><rect y="409.0" width="11.0" height="2.1" fill="#6B420C"/></g>
<g transform="translate(463.76,0)"><rect y="9.0" width="11.0" height="1.5" fill="#A8E0A8"/><rect y="10.3" width="11.0" height="1.8" fill="#008080"/><rect y="12.0" width="11.0" height="1.6" fill="#BA7E88"/><rect y="13.5" width="11.0" height="74.7" fill="#8C3CFF"/><rect y="88.0" width="11.0" height="108.3" fill="#FFFF00"/><rect y="196.2" width="11.0" height="6.4" fill="#8C3CFF"/><rect y="202.4" width="11.0" height="2.2" fill="#C69C6D"/><rect y="204.5" width="11.0" height="8.3" fill="#0000FF"/><rect y="212.7" width="11.0" height="10.9" fill="#FF0000"/><rect y="223.4" width="11.0" height="8.6" fill="#00B4FF"/><rect y="231.8" width="11.0" height="20.4" fill="#FFF599"/><rect y="252.1" width="11.0" height="88.9" fill="#A084C0"/><rect y="340.8" width="11.0" height="1.1" fill="#E4D8C4"/><rect y="341.8" width="11.0" height="12.3" fill="#F47800"/><rect y="354.0" width="11.0" height="2.1" fill="#EC008C"/><rect y="356.0" width="11.0" height="1.8" fill="#C69C6D"/><rect y="357.7" width="11.0" height="1.8" fill="#008080"/><rect y="359.3" width="11.0" height="1.8" fill="#FFF599"/><rect y="361.0" width="11.0" height="30.6" fill="#F497C3"/><rect y="391.5" width="11.0" height="1.1" fill="#808080"/><rect y="392.5" width="11.0" height="1.5" fill="#000080"/><rect y="393.8" width="11.0" height="2.3" fill="#C69C6D"/><rect y="396.0" width="11.0" height="1.1" fill="#7CA5D8"/><rect y="397.0" width="11.0" height="3.1" fill="#A54800"/><rect y="400.0" width="11.0" height="3.1" fill="#808000"/><rect y="403.0" width="11.0" height="3.6" fill="#00B4FF"/><rect y="406.5" width="11.0" height="4.7" fill="#C69C6D"/></g>
<g transform="translate(477.79,0)"><rect y="9.0" width="11.0" height="1.6" fill="#000080"/><rect y="10.5" width="11.0" height="3.1" fill="#BA7E88"/><rect y="13.5" width="11.0" height="24.6" fill="#8C3CFF"/><rect y="38.0" width="11.0" height="5.4" fill="#FFF599"/><rect y="43.3" width="11.0" height="76.1" fill="#FFFF00"/><rect y="119.2" width="11.0" height="3.9" fill="#9040C8"/><rect y="123.0" width="11.0" height="1.4" fill="#7FC99C"/><rect y="124.3" width="11.0" height="27.7" fill="#0000FF"/><rect y="151.8" width="11.0" height="9.0" fill="#FF0000"/><rect y="160.7" width="11.0" height="28.9" fill="#00B4FF"/><rect y="189.4" width="11.0" height="2.4" fill="#FFF599"/><rect y="191.7" width="11.0" height="185.8" fill="#A084C0"/><rect y="377.4" width="11.0" height="1.6" fill="#7FC99C"/><rect y="378.8" width="11.0" height="12.3" fill="#F47800"/><rect y="391.0" width="11.0" height="1.5" fill="#808080"/><rect y="392.3" width="11.0" height="1.3" fill="#E4D8C4"/><rect y="393.5" width="11.0" height="4.0" fill="#F497C3"/><rect y="397.3" width="11.0" height="2.8" fill="#8C3CFF"/><rect y="400.0" width="11.0" height="1.1" fill="#00B4FF"/><rect y="401.0" width="11.0" height="2.1" fill="#800000"/><rect y="403.0" width="11.0" height="2.6" fill="#FF0000"/><rect y="405.5" width="11.0" height="2.1" fill="#808000"/><rect y="407.5" width="11.0" height="3.6" fill="#C69C6D"/></g>
<g transform="translate(491.82,0)"><rect y="9.0" width="11.0" height="1.6" fill="#30C050"/><rect y="10.5" width="11.0" height="2.1" fill="#283C00"/><rect y="12.5" width="11.0" height="2.1" fill="#800000"/><rect y="14.4" width="11.0" height="18.8" fill="#8C3CFF"/><rect y="33.0" width="11.0" height="2.1" fill="#FFF599"/><rect y="35.0" width="11.0" height="16.8" fill="#FFFF00"/><rect y="51.6" width="11.0" height="3.8" fill="#9040C8"/><rect y="55.2" width="11.0" height="8.7" fill="#808000"/><rect y="63.8" width="11.0" height="5.8" fill="#C69C6D"/><rect y="69.4" width="11.0" height="5.2" fill="#0000FF"/><rect y="74.4" width="11.0" height="15.2" fill="#FF0000"/><rect y="89.5" width="11.0" height="8.2" fill="#00B4FF"/><rect y="97.5" width="11.0" height="1.4" fill="#EC008C"/><rect y="98.7" width="11.0" height="4.7" fill="#FFF599"/><rect y="103.3" width="11.0" height="147.5" fill="#A084C0"/><rect y="250.7" width="11.0" height="2.0" fill="#7FC99C"/><rect y="252.5" width="11.0" height="35.6" fill="#F47800"/><rect y="288.0" width="11.0" height="1.1" fill="#6B420C"/><rect y="289.0" width="11.0" height="1.1" fill="#7FC99C"/><rect y="290.0" width="11.0" height="4.7" fill="#FAC080"/><rect y="294.5" width="11.0" height="13.3" fill="#808080"/><rect y="307.7" width="11.0" height="59.5" fill="#F497C3"/><rect y="367.0" width="11.0" height="9.8" fill="#008000"/><rect y="376.6" width="11.0" height="1.5" fill="#283C00"/><rect y="378.0" width="11.0" height="2.1" fill="#808000"/><rect y="380.0" width="11.0" height="9.3" fill="#C69C6D"/><rect y="389.2" width="11.0" height="1.8" fill="#7CA5D8"/><rect y="390.8" width="11.0" height="1.7" fill="#800000"/><rect y="392.4" width="11.0" height="1.8" fill="#FFF599"/><rect y="394.0" width="11.0" height="2.1" fill="#008000"/><rect y="396.0" width="11.0" height="2.1" fill="#808000"/><rect y="398.0" width="11.0" height="4.7" fill="#00B4FF"/><rect y="402.5" width="11.0" height="2.6" fill="#8C3CFF"/><rect y="405.0" width="11.0" height="3.1" fill="#C69C6D"/><rect y="408.0" width="11.0" height="3.1" fill="#BA7E88"/></g>
<g transform="translate(505.85,0)"><rect y="9.0" width="11.0" height="18.9" fill="#283C00"/><rect y="27.8" width="11.0" height="2.3" fill="#008080"/><rect y="30.0" width="11.0" height="4.5" fill="#BA7E88"/><rect y="34.4" width="11.0" height="1.8" fill="#8C3CFF"/><rect y="36.0" width="11.0" height="2.1" fill="#BA7E88"/><rect y="38.0" width="11.0" height="13.8" fill="#8C3CFF"/><rect y="51.6" width="11.0" height="7.3" fill="#FFFF00"/><rect y="58.8" width="11.0" height="3.4" fill="#8C3CFF"/><rect y="62.0" width="11.0" height="1.1" fill="#7FC99C"/><rect y="63.0" width="11.0" height="1.1" fill="#008080"/><rect y="64.0" width="11.0" height="1.1" fill="#8C3CFF"/><rect y="65.0" width="11.0" height="3.9" fill="#808000"/><rect y="68.7" width="11.0" height="2.4" fill="#BA7E88"/><rect y="71.0" width="11.0" height="3.6" fill="#A084C0"/><rect y="74.4" width="11.0" height="1.9" fill="#800000"/><rect y="76.2" width="11.0" height="14.7" fill="#0000FF"/><rect y="90.7" width="11.0" height="6.4" fill="#FF0000"/><rect y="97.0" width="11.0" height="5.6" fill="#00B4FF"/><rect y="102.4" width="11.0" height="1.4" fill="#EC008C"/><rect y="103.7" width="11.0" height="46.9" fill="#A084C0"/><rect y="150.5" width="11.0" height="2.1" fill="#7FC99C"/><rect y="152.5" width="11.0" height="22.0" fill="#F47800"/><rect y="174.3" width="11.0" height="0.8" fill="#E4D8C4"/><rect y="175.0" width="11.0" height="4.7" fill="#EC008C"/><rect y="179.6" width="11.0" height="1.1" fill="#E4D8C4"/><rect y="180.5" width="11.0" height="3.0" fill="#808080"/><rect y="183.3" width="11.0" height="1.8" fill="#101010"/><rect y="185.0" width="11.0" height="2.6" fill="#7FC99C"/><rect y="187.5" width="11.0" height="14.6" fill="#C69C6D"/><rect y="201.9" width="11.0" height="1.6" fill="#EC008C"/><rect y="203.3" width="11.0" height="36.6" fill="#808080"/><rect y="239.8" width="11.0" height="2.7" fill="#F497C3"/><rect y="242.4" width="11.0" height="35.7" fill="#A54800"/><rect y="278.0" width="11.0" height="11.7" fill="#800000"/><rect y="289.5" width="11.0" height="1.8" fill="#008080"/><rect y="291.2" width="11.0" height="4.7" fill="#F8957A"/><rect y="295.7" width="11.0" height="7.8" fill="#808080"/><rect y="303.4" width="11.0" height="5.5" fill="#8F268F"/><rect y="308.7" width="11.0" height="3.3" fill="#808000"/><rect y="311.8" width="11.0" height="1.3" fill="#7FC99C"/><rect y="313.0" width="11.0" height="1.6" fill="#F8957A"/><rect y="314.5" width="11.0" height="1.1" fill="#EC008C"/><rect y="315.5" width="11.0" height="1.6" fill="#008080"/><rect y="317.0" width="11.0" height="2.1" fill="#FF0000"/><rect y="319.0" width="11.0" height="12.5" fill="#283C00"/><rect y="331.4" width="11.0" height="6.8" fill="#800000"/><rect y="338.0" width="11.0" height="17.0" fill="#008080"/><rect y="354.9" width="11.0" height="30.0" fill="#00B4FF"/><rect y="384.7" width="11.0" height="2.0" fill="#8C3CFF"/><rect y="386.5" width="11.0" height="2.1" fill="#800000"/><rect y="388.5" width="11.0" height="12.3" fill="#C69C6D"/><rect y="400.7" width="11.0" height="2.5" fill="#FFF599"/><rect y="403.0" width="11.0" height="1.5" fill="#8C3CFF"/><rect y="404.3" width="11.0" height="1.3" fill="#C69C6D"/><rect y="405.5" width="11.0" height="4.5" fill="#6B420C"/><rect y="409.8" width="11.0" height="1.3" fill="#00FF00"/></g>
<g transform="translate(519.88,0)"><rect y="9.0" width="11.0" height="11.2" fill="#283C00"/><rect y="20.0" width="11.0" height="1.6" fill="#800000"/><rect y="21.5" width="11.0" height="4.7" fill="#BA7E88"/><rect y="26.0" width="11.0" height="40.1" fill="#8C3CFF"/><rect y="66.0" width="11.0" height="16.6" fill="#FFFF00"/><rect y="82.4" width="11.0" height="2.2" fill="#8C3CFF"/><rect y="84.5" width="11.0" height="1.6" fill="#FFFF00"/><rect y="86.0" width="11.0" height="1.4" fill="#8C3CFF"/><rect y="87.3" width="11.0" height="8.9" fill="#808000"/><rect y="96.0" width="11.0" height="1.9" fill="#C69C6D"/><rect y="97.8" width="11.0" height="2.9" fill="#A084C0"/><rect y="100.5" width="11.0" height="7.7" fill="#0000FF"/><rect y="108.0" width="11.0" height="14.2" fill="#FF0000"/><rect y="122.0" width="11.0" height="5.4" fill="#00B4FF"/><rect y="127.2" width="11.0" height="1.3" fill="#EC008C"/><rect y="128.3" width="11.0" height="4.3" fill="#FFF599"/><rect y="132.5" width="11.0" height="133.5" fill="#A084C0"/><rect y="265.8" width="11.0" height="1.8" fill="#7FC99C"/><rect y="267.5" width="11.0" height="18.3" fill="#F47800"/><rect y="285.6" width="11.0" height="3.5" fill="#EC008C"/><rect y="289.0" width="11.0" height="1.1" fill="#E4D8C4"/><rect y="290.0" width="11.0" height="5.0" fill="#808080"/><rect y="294.8" width="11.0" height="8.7" fill="#F497C3"/><rect y="303.4" width="11.0" height="1.8" fill="#004800"/><rect y="305.0" width="11.0" height="2.1" fill="#000080"/><rect y="307.0" width="11.0" height="2.0" fill="#808000"/><rect y="308.8" width="11.0" height="8.3" fill="#C69C6D"/><rect y="317.0" width="11.0" height="1.5" fill="#7CA5D8"/><rect y="318.4" width="11.0" height="5.5" fill="#808080"/><rect y="323.7" width="11.0" height="1.5" fill="#C69C6D"/><rect y="325.0" width="11.0" height="12.2" fill="#A54800"/><rect y="337.0" width="11.0" height="3.1" fill="#800000"/><rect y="340.0" width="11.0" height="2.0" fill="#F497C3"/><rect y="341.9" width="11.0" height="2.0" fill="#8C3CFF"/><rect y="343.8" width="11.0" height="2.0" fill="#808000"/><rect y="345.6" width="11.0" height="2.0" fill="#E4D8C4"/><rect y="347.5" width="11.0" height="21.0" fill="#283C00"/><rect y="368.4" width="11.0" height="5.4" fill="#800000"/><rect y="373.6" width="11.0" height="5.5" fill="#008080"/><rect y="379.0" width="11.0" height="13.5" fill="#00B4FF"/><rect y="392.4" width="11.0" height="2.8" fill="#8C3CFF"/><rect y="395.0" width="11.0" height="1.6" fill="#800000"/><rect y="396.5" width="11.0" height="8.0" fill="#C69C6D"/><rect y="404.4" width="11.0" height="2.3" fill="#FFF599"/><rect y="406.5" width="11.0" height="1.8" fill="#8C3CFF"/><rect y="408.2" width="11.0" height="3.0" fill="#6B420C"/></g>
<g transform="translate(533.91,0)"><rect y="9.0" width="11.0" height="2.6" fill="#30C050"/><rect y="11.5" width="11.0" height="2.1" fill="#BA7E88"/><rect y="13.5" width="11.0" height="138.1" fill="#8C3CFF"/><rect y="151.4" width="11.0" height="24.7" fill="#FFFF00"/><rect y="176.0" width="11.0" height="3.7" fill="#BA7E88"/><rect y="179.6" width="11.0" height="5.6" fill="#8C3CFF"/><rect y="185.0" width="11.0" height="1.6" fill="#BA7E88"/><rect y="186.5" width="11.0" height="1.1" fill="#8C3CFF"/><rect y="187.5" width="11.0" height="3.0" fill="#808000"/><rect y="190.3" width="11.0" height="4.8" fill="#C69C6D"/><rect y="195.0" width="11.0" height="2.1" fill="#8C3CFF"/><rect y="197.0" width="11.0" height="21.1" fill="#0000FF"/><rect y="218.0" width="11.0" height="6.5" fill="#FF0000"/><rect y="224.3" width="11.0" height="9.3" fill="#00B4FF"/><rect y="233.5" width="11.0" height="2.1" fill="#EC008C"/><rect y="235.5" width="11.0" height="5.3" fill="#FFF599"/><rect y="240.7" width="11.0" height="119.2" fill="#A084C0"/><rect y="359.7" width="11.0" height="3.5" fill="#7FC99C"/><rect y="363.0" width="11.0" height="9.0" fill="#F47800"/><rect y="371.8" width="11.0" height="3.3" fill="#EC008C"/><rect y="375.0" width="11.0" height="2.1" fill="#808080"/><rect y="377.0" width="11.0" height="3.1" fill="#C69C6D"/><rect y="380.0" width="11.0" height="1.8" fill="#8C3CFF"/><rect y="381.6" width="11.0" height="1.8" fill="#F497C3"/><rect y="383.3" width="11.0" height="1.8" fill="#008000"/><rect y="384.9" width="11.0" height="1.8" fill="#00FF00"/><rect y="386.6" width="11.0" height="1.8" fill="#808000"/><rect y="388.2" width="11.0" height="1.8" fill="#F8957A"/><rect y="389.9" width="11.0" height="1.8" fill="#7FC99C"/><rect y="391.5" width="11.0" height="3.1" fill="#A54800"/><rect y="394.5" width="11.0" height="3.1" fill="#808000"/><rect y="397.5" width="11.0" height="1.6" fill="#004800"/><rect y="399.0" width="11.0" height="1.6" fill="#A084C0"/><rect y="400.5" width="11.0" height="1.6" fill="#00B4FF"/><rect y="402.0" width="11.0" height="1.1" fill="#E4D8C4"/><rect y="403.0" width="11.0" height="1.6" fill="#EC008C"/><rect y="404.5" width="11.0" height="1.1" fill="#E4D8C4"/><rect y="405.5" width="11.0" height="2.6" fill="#C69C6D"/><rect y="408.0" width="11.0" height="1.6" fill="#6B420C"/><rect y="409.5" width="11.0" height="1.6" fill="#E4D8C4"/></g>
<g transform="translate(547.94,0)"><rect y="9.0" width="11.0" height="3.6" fill="#20E840"/><rect y="12.5" width="11.0" height="29.1" fill="#283C00"/><rect y="41.5" width="11.0" height="1.4" fill="#800000"/><rect y="42.7" width="11.0" height="3.0" fill="#008080"/><rect y="45.6" width="11.0" height="7.5" fill="#BA7E88"/><rect y="53.0" width="11.0" height="2.1" fill="#7CA5D8"/><rect y="55.0" width="11.0" height="3.4" fill="#8C3CFF"/><rect y="58.2" width="11.0" height="3.9" fill="#FFFF00"/><rect y="62.0" width="11.0" height="2.0" fill="#8C3CFF"/><rect y="63.9" width="11.0" height="2.0" fill="#BA7E88"/><rect y="65.7" width="11.0" height="2.0" fill="#8C3CFF"/><rect y="67.6" width="11.0" height="1.6" fill="#808000"/><rect y="69.0" width="11.0" height="1.1" fill="#7FC99C"/><rect y="70.0" width="11.0" height="2.7" fill="#8C3CFF"/><rect y="72.6" width="11.0" height="14.6" fill="#808000"/><rect y="87.0" width="11.0" height="3.4" fill="#C69C6D"/><rect y="90.3" width="11.0" height="5.9" fill="#A084C0"/><rect y="96.0" width="11.0" height="1.6" fill="#EC008C"/><rect y="97.5" width="11.0" height="5.4" fill="#8F268F"/><rect y="102.8" width="11.0" height="13.6" fill="#0000FF"/><rect y="116.2" width="11.0" height="20.9" fill="#FF0000"/><rect y="137.0" width="11.0" height="11.8" fill="#00B4FF"/><rect y="148.7" width="11.0" height="1.1" fill="#C69C6D"/><rect y="149.6" width="11.0" height="48.1" fill="#A084C0"/><rect y="197.6" width="11.0" height="2.7" fill="#7FC99C"/><rect y="200.2" width="11.0" height="12.2" fill="#F47800"/><rect y="212.2" width="11.0" height="1.3" fill="#7FC99C"/><rect y="213.3" width="11.0" height="1.3" fill="#C69C6D"/><rect y="214.5" width="11.0" height="1.6" fill="#EC008C"/><rect y="216.0" width="11.0" height="1.6" fill="#E4D8C4"/><rect y="217.5" width="11.0" height="6.3" fill="#808080"/><rect y="223.7" width="11.0" height="3.5" fill="#F497C3"/><rect y="227.0" width="11.0" height="5.0" fill="#008000"/><rect y="231.8" width="11.0" height="1.8" fill="#0000FF"/><rect y="233.5" width="11.0" height="2.1" fill="#EC008C"/><rect y="235.5" width="11.0" height="4.1" fill="#00FF00"/><rect y="239.4" width="11.0" height="1.4" fill="#E4D8C4"/><rect y="240.7" width="11.0" height="7.2" fill="#C69C6D"/><rect y="247.7" width="11.0" height="1.5" fill="#EC008C"/><rect y="249.0" width="11.0" height="1.5" fill="#008080"/><rect y="250.3" width="11.0" height="1.3" fill="#808080"/><rect y="251.5" width="11.0" height="1.6" fill="#7FC99C"/><rect y="253.0" width="11.0" height="2.8" fill="#F497C3"/><rect y="255.7" width="11.0" height="16.1" fill="#A54800"/><rect y="271.7" width="11.0" height="5.8" fill="#800000"/><rect y="277.4" width="11.0" height="1.3" fill="#C69C6D"/><rect y="278.5" width="11.0" height="1.3" fill="#7FC99C"/><rect y="279.7" width="11.0" height="5.0" fill="#808080"/><rect y="284.5" width="11.0" height="1.6" fill="#283C00"/><rect y="286.0" width="11.0" height="2.6" fill="#F497C3"/><rect y="288.5" width="11.0" height="5.7" fill="#808000"/><rect y="294.0" width="11.0" height="1.6" fill="#E4D8C4"/><rect y="295.5" width="11.0" height="2.1" fill="#F497C3"/><rect y="297.5" width="11.0" height="2.0" fill="#EC008C"/><rect y="299.3" width="11.0" height="2.8" fill="#A8E0A8"/><rect y="302.0" width="11.0" height="2.5" fill="#000080"/><rect y="304.3" width="11.0" height="2.6" fill="#FF0000"/><rect y="306.8" width="11.0" height="6.0" fill="#283C00"/><rect y="312.6" width="11.0" height="3.7" fill="#800000"/><rect y="316.2" width="11.0" height="22.0" fill="#008080"/><rect y="338.0" width="11.0" height="1.6" fill="#C69C6D"/><rect y="339.5" width="11.0" height="24.1" fill="#00B4FF"/><rect y="363.5" width="11.0" height="2.1" fill="#8C3CFF"/><rect y="365.5" width="11.0" height="2.1" fill="#008080"/><rect y="367.5" width="11.0" height="2.3" fill="#800000"/><rect y="369.7" width="11.0" height="26.8" fill="#C69C6D"/><rect y="396.3" width="11.0" height="2.8" fill="#FFF599"/><rect y="399.0" width="11.0" height="1.6" fill="#E4D8C4"/><rect y="400.5" width="11.0" height="8.0" fill="#6B420C"/><rect y="408.4" width="11.0" height="2.8" fill="#00FF00"/></g>
<g transform="translate(561.97,0)"><rect y="9.0" width="11.0" height="10.8" fill="#283C00"/><rect y="19.6" width="11.0" height="1.2" fill="#800000"/><rect y="20.7" width="11.0" height="1.5" fill="#008080"/><rect y="22.0" width="11.0" height="4.2" fill="#BA7E88"/><rect y="26.0" width="11.0" height="19.1" fill="#8C3CFF"/><rect y="45.0" width="11.0" height="25.1" fill="#FFFF00"/><rect y="70.0" width="11.0" height="1.1" fill="#800000"/><rect y="71.0" width="11.0" height="7.2" fill="#8C3CFF"/><rect y="78.0" width="11.0" height="1.1" fill="#BA7E88"/><rect y="79.0" width="11.0" height="1.4" fill="#EC008C"/><rect y="80.3" width="11.0" height="4.1" fill="#808000"/><rect y="84.2" width="11.0" height="2.9" fill="#C69C6D"/><rect y="87.0" width="11.0" height="4.4" fill="#A084C0"/><rect y="91.2" width="11.0" height="1.4" fill="#F47800"/><rect y="92.5" width="11.0" height="12.7" fill="#0000FF"/><rect y="105.0" width="11.0" height="18.1" fill="#FF0000"/><rect y="123.0" width="11.0" height="3.6" fill="#00B4FF"/><rect y="126.5" width="11.0" height="18.0" fill="#FFF599"/><rect y="144.3" width="11.0" height="65.0" fill="#A084C0"/><rect y="209.2" width="11.0" height="1.5" fill="#7FC99C"/><rect y="210.5" width="11.0" height="11.7" fill="#F47800"/><rect y="222.0" width="11.0" height="5.0" fill="#EC008C"/><rect y="226.8" width="11.0" height="2.1" fill="#C69C6D"/><rect y="228.8" width="11.0" height="8.0" fill="#808080"/><rect y="236.7" width="11.0" height="6.3" fill="#F497C3"/><rect y="242.8" width="11.0" height="5.0" fill="#008000"/><rect y="247.7" width="11.0" height="2.0" fill="#800000"/><rect y="249.5" width="11.0" height="24.1" fill="#C69C6D"/><rect y="273.5" width="11.0" height="1.5" fill="#8C3CFF"/><rect y="274.8" width="11.0" height="5.5" fill="#808080"/><rect y="280.2" width="11.0" height="14.5" fill="#F497C3"/><rect y="294.5" width="11.0" height="29.0" fill="#A54800"/><rect y="323.3" width="11.0" height="8.8" fill="#800000"/><rect y="332.0" width="11.0" height="1.6" fill="#F497C3"/><rect y="333.5" width="11.0" height="1.6" fill="#F8957A"/><rect y="335.0" width="11.0" height="1.6" fill="#008080"/><rect y="336.5" width="11.0" height="6.7" fill="#808000"/><rect y="343.0" width="11.0" height="1.6" fill="#F497C3"/><rect y="344.5" width="11.0" height="2.0" fill="#8C3CFF"/><rect y="346.3" width="11.0" height="7.8" fill="#283C00"/><rect y="354.0" width="11.0" height="2.6" fill="#800000"/><rect y="356.5" width="11.0" height="13.3" fill="#008080"/><rect y="369.7" width="11.0" height="19.6" fill="#00B4FF"/><rect y="389.2" width="11.0" height="1.5" fill="#8C3CFF"/><rect y="390.5" width="11.0" height="1.6" fill="#EC008C"/><rect y="392.0" width="11.0" height="2.6" fill="#6B420C"/><rect y="394.5" width="11.0" height="8.2" fill="#C69C6D"/><rect y="402.5" width="11.0" height="2.6" fill="#FFF599"/><rect y="405.0" width="11.0" height="1.0" fill="#A084C0"/><rect y="405.8" width="11.0" height="3.3" fill="#6B420C"/><rect y="409.0" width="11.0" height="1.1" fill="#00FF00"/><rect y="410.0" width="11.0" height="1.1" fill="#7FEFF5"/></g>
<g transform="translate(576.00,0)"><rect y="9.0" width="11.0" height="2.1" fill="#0000C8"/><rect y="10.9" width="11.0" height="1.7" fill="#808080"/><rect y="12.5" width="11.0" height="2.5" fill="#C0C0C0"/><rect y="14.8" width="11.0" height="5.2" fill="#7CA5D8"/><rect y="19.8" width="11.0" height="14.3" fill="#00FF00"/><rect y="34.0" width="11.0" height="4.2" fill="#808080"/><rect y="38.0" width="11.0" height="1.4" fill="#BA7E88"/><rect y="39.2" width="11.0" height="1.7" fill="#D8FFFF"/><rect y="40.8" width="11.0" height="5.0" fill="#283C00"/><rect y="45.6" width="11.0" height="1.5" fill="#BA7E88"/><rect y="47.0" width="11.0" height="1.8" fill="#8C3CFF"/><rect y="48.6" width="11.0" height="5.5" fill="#7FEFF5"/><rect y="54.0" width="11.0" height="2.6" fill="#8C3CFF"/><rect y="56.5" width="11.0" height="2.0" fill="#0000FF"/><rect y="58.4" width="11.0" height="2.3" fill="#00B4FF"/><rect y="60.5" width="11.0" height="4.2" fill="#EC008C"/><rect y="64.6" width="11.0" height="4.3" fill="#FFF599"/><rect y="68.7" width="11.0" height="3.2" fill="#A084C0"/><rect y="71.8" width="11.0" height="2.4" fill="#FAC080"/><rect y="74.0" width="11.0" height="1.9" fill="#A8E0A8"/><rect y="75.7" width="11.0" height="5.2" fill="#008080"/><rect y="80.7" width="11.0" height="2.7" fill="#808000"/><rect y="83.3" width="11.0" height="4.9" fill="#00B4FF"/><rect y="88.0" width="11.0" height="1.6" fill="#EC008C"/><rect y="89.5" width="11.0" height="1.6" fill="#F8957A"/><rect y="91.0" width="11.0" height="1.6" fill="#FAC080"/><rect y="92.5" width="11.0" height="1.4" fill="#FFF599"/><rect y="93.7" width="11.0" height="1.2" fill="#A8E0A8"/><rect y="94.8" width="11.0" height="2.9" fill="#004800"/><rect y="97.5" width="11.0" height="5.9" fill="#8C3CFF"/><rect y="103.3" width="11.0" height="6.9" fill="#808000"/><rect y="110.0" width="11.0" height="9.9" fill="#C69C6D"/><rect y="119.7" width="11.0" height="4.2" fill="#EC008C"/><rect y="123.8" width="11.0" height="4.1" fill="#C0C0C0"/><rect y="127.7" width="11.0" height="1.9" fill="#FAC080"/><rect y="129.5" width="11.0" height="1.1" fill="#008080"/><rect y="130.5" width="11.0" height="5.3" fill="#6B420C"/><rect y="135.7" width="11.0" height="2.0" fill="#E4D8C4"/><rect y="137.5" width="11.0" height="9.1" fill="#8F268F"/><rect y="146.4" width="11.0" height="3.2" fill="#A54800"/><rect y="149.5" width="11.0" height="4.7" fill="#00B4FF"/><rect y="154.0" width="11.0" height="13.8" fill="#A084C0"/><rect y="167.7" width="11.0" height="1.8" fill="#008080"/><rect y="169.3" width="11.0" height="1.8" fill="#7FC99C"/><rect y="171.0" width="11.0" height="3.1" fill="#FF0000"/><rect y="174.0" width="11.0" height="2.6" fill="#004800"/><rect y="176.5" width="11.0" height="2.1" fill="#008080"/><rect y="178.5" width="11.0" height="12.2" fill="#808000"/><rect y="190.5" width="11.0" height="2.1" fill="#7CA5D8"/><rect y="192.5" width="11.0" height="2.1" fill="#FFF599"/><rect y="194.5" width="11.0" height="4.5" fill="#F497C3"/><rect y="198.8" width="11.0" height="1.8" fill="#008080"/><rect y="200.5" width="11.0" height="7.3" fill="#800000"/><rect y="207.7" width="11.0" height="4.5" fill="#808000"/><rect y="212.0" width="11.0" height="1.6" fill="#000080"/><rect y="213.5" width="11.0" height="1.5" fill="#8C3CFF"/><rect y="214.8" width="11.0" height="2.8" fill="#F497C3"/><rect y="217.5" width="11.0" height="5.6" fill="#00FF00"/><rect y="222.9" width="11.0" height="4.9" fill="#808080"/><rect y="227.7" width="11.0" height="5.2" fill="#6B420C"/><rect y="232.7" width="11.0" height="9.1" fill="#00FF00"/><rect y="241.6" width="11.0" height="2.9" fill="#A54800"/><rect y="244.3" width="11.0" height="1.8" fill="#008080"/><rect y="246.0" width="11.0" height="1.0" fill="#A084C0"/><rect y="246.8" width="11.0" height="2.3" fill="#800000"/><rect y="249.0" width="11.0" height="2.1" fill="#008080"/><rect y="251.0" width="11.0" height="2.1" fill="#C69C6D"/><rect y="253.0" width="11.0" height="2.1" fill="#A084C0"/><rect y="255.0" width="11.0" height="4.2" fill="#C69C6D"/><rect y="259.0" width="11.0" height="1.6" fill="#00B4FF"/><rect y="260.5" width="11.0" height="23.0" fill="#808000"/><rect y="283.3" width="11.0" height="3.8" fill="#A084C0"/><rect y="287.0" width="11.0" height="1.6" fill="#7CA5D8"/><rect y="288.5" width="11.0" height="2.1" fill="#283C00"/><rect y="290.5" width="11.0" height="6.3" fill="#283C00"/><rect y="296.6" width="11.0" height="2.0" fill="#A084C0"/><rect y="298.5" width="11.0" height="4.5" fill="#808000"/><rect y="302.9" width="11.0" height="1.9" fill="#E4D8C4"/><rect y="304.6" width="11.0" height="3.2" fill="#EC008C"/><rect y="307.7" width="11.0" height="3.0" fill="#FFF599"/><rect y="310.5" width="11.0" height="2.1" fill="#F497C3"/><rect y="312.5" width="11.0" height="2.1" fill="#7FC99C"/><rect y="314.5" width="11.0" height="2.1" fill="#FF0000"/><rect y="316.5" width="11.0" height="2.1" fill="#F47800"/><rect y="318.5" width="11.0" height="13.3" fill="#BE8290"/><rect y="331.7" width="11.0" height="1.0" fill="#8C3CFF"/><rect y="332.5" width="11.0" height="1.3" fill="#FFFF00"/><rect y="333.7" width="11.0" height="5.0" fill="#00B4FF"/><rect y="338.5" width="11.0" height="1.6" fill="#000080"/><rect y="340.0" width="11.0" height="1.6" fill="#8C3CFF"/><rect y="341.5" width="11.0" height="1.5" fill="#0000FF"/><rect y="342.8" width="11.0" height="1.6" fill="#008080"/><rect y="344.2" width="11.0" height="1.6" fill="#FF0000"/><rect y="345.7" width="11.0" height="1.6" fill="#008000"/><rect y="347.1" width="11.0" height="1.6" fill="#00FF00"/><rect y="348.6" width="11.0" height="1.6" fill="#008080"/><rect y="350.0" width="11.0" height="4.2" fill="#808000"/><rect y="354.0" width="11.0" height="3.1" fill="#7FEFF5"/><rect y="357.0" width="11.0" height="8.7" fill="#800000"/><rect y="365.5" width="11.0" height="4.3" fill="#C69C6D"/><rect y="369.7" width="11.0" height="1.5" fill="#E4D8C4"/><rect y="371.0" width="11.0" height="7.2" fill="#FFF599"/><rect y="378.0" width="11.0" height="2.1" fill="#00FF00"/><rect y="380.0" width="11.0" height="24.1" fill="#6B420C"/><rect y="404.0" width="11.0" height="1.6" fill="#00FF00"/><rect y="405.5" width="11.0" height="1.6" fill="#808000"/><rect y="407.0" width="11.0" height="1.1" fill="#E4D8C4"/><rect y="408.0" width="11.0" height="3.1" fill="#FF0000"/></g>
<g transform="translate(590.03,0)"><rect y="9.0" width="11.0" height="2.7" fill="#0000C8"/><rect y="11.6" width="11.0" height="2.1" fill="#C0C0C0"/><rect y="13.5" width="11.0" height="4.5" fill="#7CA5D8"/><rect y="17.8" width="11.0" height="15.3" fill="#00FF00"/><rect y="33.0" width="11.0" height="4.2" fill="#808080"/><rect y="37.0" width="11.0" height="1.9" fill="#BA7E88"/><rect y="38.8" width="11.0" height="2.4" fill="#D8FFFF"/><rect y="41.0" width="11.0" height="5.9" fill="#283C00"/><rect y="46.8" width="11.0" height="1.9" fill="#A084C0"/><rect y="48.5" width="11.0" height="2.0" fill="#7FC99C"/><rect y="50.4" width="11.0" height="1.4" fill="#7FEFF5"/><rect y="51.6" width="11.0" height="1.3" fill="#0000FF"/><rect y="52.8" width="11.0" height="1.6" fill="#8C3CFF"/><rect y="54.3" width="11.0" height="6.9" fill="#EC008C"/><rect y="61.0" width="11.0" height="2.5" fill="#FFF599"/><rect y="63.4" width="11.0" height="2.7" fill="#A084C0"/><rect y="65.9" width="11.0" height="3.2" fill="#FAC080"/><rect y="69.0" width="11.0" height="1.1" fill="#E4D8C4"/><rect y="70.0" width="11.0" height="6.1" fill="#008080"/><rect y="75.9" width="11.0" height="7.5" fill="#808000"/><rect y="83.3" width="11.0" height="1.4" fill="#E4D8C4"/><rect y="84.5" width="11.0" height="9.2" fill="#00B4FF"/><rect y="93.5" width="11.0" height="3.2" fill="#EC008C"/><rect y="96.6" width="11.0" height="1.6" fill="#F8957A"/><rect y="98.0" width="11.0" height="1.7" fill="#FAC080"/><rect y="99.6" width="11.0" height="1.1" fill="#E4D8C4"/><rect y="100.5" width="11.0" height="2.6" fill="#004800"/><rect y="103.0" width="11.0" height="3.6" fill="#8C3CFF"/><rect y="106.4" width="11.0" height="3.7" fill="#808000"/><rect y="110.0" width="11.0" height="16.1" fill="#C69C6D"/><rect y="126.0" width="11.0" height="2.1" fill="#EC008C"/><rect y="128.0" width="11.0" height="5.2" fill="#C0C0C0"/><rect y="133.0" width="11.0" height="3.0" fill="#FAC080"/><rect y="135.8" width="11.0" height="1.8" fill="#A8E0A8"/><rect y="137.5" width="11.0" height="7.0" fill="#6B420C"/><rect y="144.3" width="11.0" height="2.3" fill="#E4D8C4"/><rect y="146.5" width="11.0" height="11.2" fill="#8F268F"/><rect y="157.6" width="11.0" height="1.7" fill="#0000FF"/><rect y="159.2" width="11.0" height="2.0" fill="#A084C0"/><rect y="161.0" width="11.0" height="2.6" fill="#00B4FF"/><rect y="163.5" width="11.0" height="10.1" fill="#A084C0"/><rect y="173.4" width="11.0" height="2.1" fill="#7FC99C"/><rect y="175.3" width="11.0" height="2.6" fill="#FF0000"/><rect y="177.8" width="11.0" height="3.0" fill="#004800"/><rect y="180.7" width="11.0" height="7.5" fill="#808000"/><rect y="188.0" width="11.0" height="1.1" fill="#FF0000"/><rect y="189.0" width="11.0" height="1.1" fill="#00B4FF"/><rect y="190.0" width="11.0" height="2.5" fill="#FAC080"/><rect y="192.3" width="11.0" height="4.0" fill="#F497C3"/><rect y="196.2" width="11.0" height="1.0" fill="#E4D8C4"/><rect y="197.0" width="11.0" height="4.7" fill="#800000"/><rect y="201.5" width="11.0" height="1.1" fill="#E4D8C4"/><rect y="202.4" width="11.0" height="2.7" fill="#808000"/><rect y="205.0" width="11.0" height="1.6" fill="#008080"/><rect y="206.5" width="11.0" height="3.1" fill="#8F268F"/><rect y="209.5" width="11.0" height="2.6" fill="#C0C0C0"/><rect y="212.0" width="11.0" height="2.1" fill="#7FC99C"/><rect y="214.0" width="11.0" height="2.5" fill="#C0C0C0"/><rect y="216.3" width="11.0" height="4.5" fill="#00FF00"/><rect y="220.7" width="11.0" height="1.1" fill="#E4D8C4"/><rect y="221.6" width="11.0" height="2.9" fill="#808080"/><rect y="224.3" width="11.0" height="1.0" fill="#000080"/><rect y="225.2" width="11.0" height="1.5" fill="#8C3CFF"/><rect y="226.5" width="11.0" height="6.0" fill="#00FF00"/><rect y="232.3" width="11.0" height="4.0" fill="#6B420C"/><rect y="236.2" width="11.0" height="2.5" fill="#00FF00"/><rect y="238.5" width="11.0" height="1.1" fill="#E4D8C4"/><rect y="239.4" width="11.0" height="3.1" fill="#800000"/><rect y="242.4" width="11.0" height="2.7" fill="#008080"/><rect y="245.0" width="11.0" height="2.1" fill="#7FC99C"/><rect y="247.0" width="11.0" height="2.6" fill="#008080"/><rect y="249.5" width="11.0" height="2.1" fill="#A084C0"/><rect y="251.5" width="11.0" height="1.6" fill="#000080"/><rect y="253.0" width="11.0" height="2.1" fill="#A084C0"/><rect y="255.0" width="11.0" height="13.8" fill="#808000"/><rect y="268.7" width="11.0" height="4.0" fill="#C0C0C0"/><rect y="272.5" width="11.0" height="3.6" fill="#7FEFF5"/><rect y="276.0" width="11.0" height="2.1" fill="#800000"/><rect y="278.0" width="11.0" height="2.1" fill="#7FC99C"/><rect y="280.0" width="11.0" height="8.8" fill="#808000"/><rect y="288.6" width="11.0" height="2.8" fill="#EC008C"/><rect y="291.3" width="11.0" height="3.6" fill="#FFF599"/><rect y="294.8" width="11.0" height="1.8" fill="#A084C0"/><rect y="296.5" width="11.0" height="1.8" fill="#7FC99C"/><rect y="298.2" width="11.0" height="2.5" fill="#00FF00"/><rect y="300.5" width="11.0" height="1.3" fill="#E4D8C4"/><rect y="301.6" width="11.0" height="11.2" fill="#F47800"/><rect y="312.6" width="11.0" height="1.5" fill="#800000"/><rect y="314.0" width="11.0" height="23.6" fill="#BE8290"/><rect y="337.5" width="11.0" height="7.8" fill="#00B4FF"/><rect y="345.2" width="11.0" height="2.0" fill="#000080"/><rect y="347.0" width="11.0" height="1.6" fill="#8C3CFF"/><rect y="348.5" width="11.0" height="2.0" fill="#0000FF"/><rect y="350.3" width="11.0" height="1.8" fill="#808000"/><rect y="352.0" width="11.0" height="1.6" fill="#008080"/><rect y="353.5" width="11.0" height="2.1" fill="#7FEFF5"/><rect y="355.5" width="11.0" height="5.8" fill="#800000"/><rect y="361.2" width="11.0" height="4.8" fill="#C69C6D"/><rect y="365.8" width="11.0" height="3.3" fill="#FFF599"/><rect y="369.0" width="11.0" height="31.3" fill="#6B420C"/><rect y="400.1" width="11.0" height="2.5" fill="#FFF599"/><rect y="402.5" width="11.0" height="2.1" fill="#00FF00"/><rect y="404.5" width="11.0" height="1.6" fill="#E4D8C4"/><rect y="406.0" width="11.0" height="5.2" fill="#FF0000"/></g>
<g transform="translate(604.06,0)"><rect y="9.0" width="11.0" height="2.1" fill="#0000C8"/><rect y="10.9" width="11.0" height="2.2" fill="#C0C0C0"/><rect y="13.0" width="11.0" height="2.1" fill="#7CA5D8"/><rect y="15.0" width="11.0" height="17.4" fill="#00FF00"/><rect y="32.2" width="11.0" height="3.5" fill="#808080"/><rect y="35.6" width="11.0" height="2.1" fill="#BA7E88"/><rect y="37.6" width="11.0" height="0.8" fill="#E4D8C4"/><rect y="38.3" width="11.0" height="7.9" fill="#283C00"/><rect y="46.0" width="11.0" height="2.1" fill="#F497C3"/><rect y="48.0" width="11.0" height="2.5" fill="#7FEFF5"/><rect y="50.4" width="11.0" height="1.4" fill="#E4D8C4"/><rect y="51.6" width="11.0" height="1.9" fill="#0000FF"/><rect y="53.4" width="11.0" height="2.0" fill="#8C3CFF"/><rect y="55.2" width="11.0" height="2.8" fill="#EC008C"/><rect y="57.9" width="11.0" height="3.9" fill="#FFF599"/><rect y="61.6" width="11.0" height="2.8" fill="#A084C0"/><rect y="64.3" width="11.0" height="2.3" fill="#FAC080"/><rect y="66.4" width="11.0" height="2.7" fill="#008080"/><rect y="69.0" width="11.0" height="4.7" fill="#808000"/><rect y="73.5" width="11.0" height="2.1" fill="#004800"/><rect y="75.5" width="11.0" height="8.9" fill="#00B4FF"/><rect y="84.2" width="11.0" height="3.9" fill="#EC008C"/><rect y="88.0" width="11.0" height="1.6" fill="#F8957A"/><rect y="89.5" width="11.0" height="2.1" fill="#FAC080"/><rect y="91.5" width="11.0" height="3.4" fill="#004800"/><rect y="94.8" width="11.0" height="5.4" fill="#8C3CFF"/><rect y="100.0" width="11.0" height="3.9" fill="#808000"/><rect y="103.7" width="11.0" height="13.2" fill="#C69C6D"/><rect y="116.7" width="11.0" height="1.4" fill="#EC008C"/><rect y="118.0" width="11.0" height="5.9" fill="#C0C0C0"/><rect y="123.8" width="11.0" height="2.1" fill="#FAC080"/><rect y="125.7" width="11.0" height="1.4" fill="#7FC99C"/><rect y="127.0" width="11.0" height="5.8" fill="#6B420C"/><rect y="132.7" width="11.0" height="2.0" fill="#F497C3"/><rect y="134.5" width="11.0" height="13.8" fill="#8F268F"/><rect y="148.2" width="11.0" height="1.5" fill="#0000FF"/><rect y="149.5" width="11.0" height="2.5" fill="#A54800"/><rect y="151.8" width="11.0" height="2.3" fill="#00B4FF"/><rect y="154.0" width="11.0" height="10.3" fill="#A084C0"/><rect y="164.2" width="11.0" height="2.5" fill="#7FC99C"/><rect y="166.5" width="11.0" height="2.6" fill="#FF0000"/><rect y="169.0" width="11.0" height="1.1" fill="#004800"/><rect y="170.0" width="11.0" height="1.7" fill="#008080"/><rect y="171.6" width="11.0" height="10.6" fill="#808000"/><rect y="182.0" width="11.0" height="2.5" fill="#F497C3"/><rect y="184.3" width="11.0" height="1.3" fill="#00B4FF"/><rect y="185.5" width="11.0" height="1.1" fill="#BA7E88"/><rect y="186.5" width="11.0" height="3.6" fill="#F497C3"/><rect y="190.0" width="11.0" height="1.6" fill="#000080"/><rect y="191.5" width="11.0" height="4.2" fill="#800000"/><rect y="195.6" width="11.0" height="6.6" fill="#808000"/><rect y="202.0" width="11.0" height="1.6" fill="#EC008C"/><rect y="203.5" width="11.0" height="1.6" fill="#008080"/><rect y="205.0" width="11.0" height="2.1" fill="#8F268F"/><rect y="207.0" width="11.0" height="4.8" fill="#7CA5D8"/><rect y="211.7" width="11.0" height="5.1" fill="#00FF00"/><rect y="216.6" width="11.0" height="10.9" fill="#808080"/><rect y="227.3" width="11.0" height="5.5" fill="#6B420C"/><rect y="232.7" width="11.0" height="1.9" fill="#E4D8C4"/><rect y="234.4" width="11.0" height="7.7" fill="#00FF00"/><rect y="242.0" width="11.0" height="3.1" fill="#A54800"/><rect y="245.0" width="11.0" height="1.1" fill="#000080"/><rect y="246.0" width="11.0" height="1.6" fill="#008080"/><rect y="247.5" width="11.0" height="1.6" fill="#7FEFF5"/><rect y="249.0" width="11.0" height="2.1" fill="#283C00"/><rect y="251.0" width="11.0" height="3.5" fill="#7CA5D8"/><rect y="254.3" width="11.0" height="2.3" fill="#C69C6D"/><rect y="256.5" width="11.0" height="2.5" fill="#EC008C"/><rect y="258.8" width="11.0" height="16.0" fill="#808000"/><rect y="274.7" width="11.0" height="1.1" fill="#E4D8C4"/><rect y="275.6" width="11.0" height="3.5" fill="#C0C0C0"/><rect y="279.0" width="11.0" height="2.6" fill="#6B420C"/><rect y="281.5" width="11.0" height="2.6" fill="#7FEFF5"/><rect y="284.0" width="11.0" height="2.1" fill="#004800"/><rect y="286.0" width="11.0" height="3.0" fill="#808000"/><rect y="288.8" width="11.0" height="3.3" fill="#EC008C"/><rect y="292.0" width="11.0" height="2.6" fill="#FFF599"/><rect y="294.5" width="11.0" height="2.1" fill="#7FC99C"/><rect y="296.5" width="11.0" height="2.0" fill="#FFF599"/><rect y="298.4" width="11.0" height="3.4" fill="#F47800"/><rect y="301.6" width="11.0" height="16.1" fill="#BE8290"/><rect y="317.6" width="11.0" height="4.0" fill="#00B4FF"/><rect y="321.5" width="11.0" height="1.6" fill="#8C3CFF"/><rect y="323.0" width="11.0" height="2.1" fill="#008080"/><rect y="325.0" width="11.0" height="2.1" fill="#C69C6D"/><rect y="327.0" width="11.0" height="4.2" fill="#008000"/><rect y="331.0" width="11.0" height="1.6" fill="#C69C6D"/><rect y="332.5" width="11.0" height="9.0" fill="#A54800"/><rect y="341.4" width="11.0" height="2.3" fill="#7FEFF5"/><rect y="343.5" width="11.0" height="8.7" fill="#800000"/><rect y="352.0" width="11.0" height="5.0" fill="#C69C6D"/><rect y="356.8" width="11.0" height="1.5" fill="#EC008C"/><rect y="358.2" width="11.0" height="14.8" fill="#FFF599"/><rect y="372.8" width="11.0" height="2.0" fill="#00FF00"/><rect y="374.7" width="11.0" height="26.1" fill="#6B420C"/><rect y="400.7" width="11.0" height="1.5" fill="#000080"/><rect y="402.0" width="11.0" height="2.1" fill="#FFF599"/><rect y="404.0" width="11.0" height="2.1" fill="#E4D8C4"/><rect y="406.0" width="11.0" height="2.3" fill="#00FF00"/><rect y="408.2" width="11.0" height="3.0" fill="#FF0000"/></g>
<g transform="translate(618.09,0)"><rect y="9.0" width="11.0" height="1.1" fill="#800000"/><rect y="10.0" width="11.0" height="1.3" fill="#EC008C"/><rect y="11.2" width="11.0" height="2.9" fill="#7CA5D8"/><rect y="13.9" width="11.0" height="19.8" fill="#00FF00"/><rect y="33.5" width="11.0" height="3.6" fill="#808080"/><rect y="37.0" width="11.0" height="1.4" fill="#BA7E88"/><rect y="38.3" width="11.0" height="1.6" fill="#7FEFF5"/><rect y="39.7" width="11.0" height="3.1" fill="#000030"/><rect y="42.7" width="11.0" height="1.4" fill="#E4D8C4"/><rect y="44.0" width="11.0" height="4.4" fill="#7FEFF5"/><rect y="48.3" width="11.0" height="1.9" fill="#EC008C"/><rect y="50.0" width="11.0" height="1.8" fill="#7FC99C"/><rect y="51.6" width="11.0" height="5.5" fill="#FFF599"/><rect y="57.0" width="11.0" height="3.6" fill="#A084C0"/><rect y="60.5" width="11.0" height="2.4" fill="#FAC080"/><rect y="62.8" width="11.0" height="2.9" fill="#008080"/><rect y="65.5" width="11.0" height="5.6" fill="#808000"/><rect y="70.9" width="11.0" height="1.5" fill="#004800"/><rect y="72.3" width="11.0" height="6.8" fill="#00B4FF"/><rect y="78.9" width="11.0" height="11.2" fill="#EC008C"/><rect y="90.0" width="11.0" height="2.1" fill="#C0C0C0"/><rect y="92.0" width="11.0" height="2.4" fill="#F497C3"/><rect y="94.3" width="11.0" height="2.4" fill="#004800"/><rect y="96.5" width="11.0" height="5.1" fill="#8C3CFF"/><rect y="101.4" width="11.0" height="6.5" fill="#808000"/><rect y="107.8" width="11.0" height="16.6" fill="#C69C6D"/><rect y="124.2" width="11.0" height="3.9" fill="#EC008C"/><rect y="128.0" width="11.0" height="4.8" fill="#C0C0C0"/><rect y="132.7" width="11.0" height="5.9" fill="#00FF00"/><rect y="138.4" width="11.0" height="6.3" fill="#6B420C"/><rect y="144.6" width="11.0" height="2.2" fill="#F497C3"/><rect y="146.7" width="11.0" height="14.2" fill="#8F268F"/><rect y="160.7" width="11.0" height="1.9" fill="#0000FF"/><rect y="162.4" width="11.0" height="4.6" fill="#A54800"/><rect y="166.8" width="11.0" height="4.5" fill="#00B4FF"/><rect y="171.2" width="11.0" height="23.0" fill="#A084C0"/><rect y="194.0" width="11.0" height="2.3" fill="#7FC99C"/><rect y="196.2" width="11.0" height="3.0" fill="#6B420C"/><rect y="199.0" width="11.0" height="6.2" fill="#808000"/><rect y="205.0" width="11.0" height="2.6" fill="#FAC080"/><rect y="207.5" width="11.0" height="1.2" fill="#E4D8C4"/><rect y="208.6" width="11.0" height="4.2" fill="#800000"/><rect y="212.7" width="11.0" height="3.1" fill="#808000"/><rect y="215.7" width="11.0" height="2.0" fill="#C0C0C0"/><rect y="217.5" width="11.0" height="2.0" fill="#8F268F"/><rect y="219.3" width="11.0" height="2.8" fill="#C0C0C0"/><rect y="222.0" width="11.0" height="2.1" fill="#FFF599"/><rect y="224.0" width="11.0" height="1.6" fill="#C0C0C0"/><rect y="225.5" width="11.0" height="2.1" fill="#7CA5D8"/><rect y="227.5" width="11.0" height="6.7" fill="#00FF00"/><rect y="234.0" width="11.0" height="16.0" fill="#808080"/><rect y="249.8" width="11.0" height="4.7" fill="#6B420C"/><rect y="254.4" width="11.0" height="2.2" fill="#F497C3"/><rect y="256.5" width="11.0" height="2.1" fill="#EC008C"/><rect y="258.5" width="11.0" height="1.3" fill="#E4D8C4"/><rect y="259.6" width="11.0" height="7.2" fill="#00FF00"/><rect y="266.7" width="11.0" height="2.0" fill="#BA7E88"/><rect y="268.5" width="11.0" height="2.1" fill="#000080"/><rect y="270.5" width="11.0" height="2.1" fill="#008080"/><rect y="272.5" width="11.0" height="2.1" fill="#BA7E88"/><rect y="274.5" width="11.0" height="2.1" fill="#008080"/><rect y="276.5" width="11.0" height="3.5" fill="#C69C6D"/><rect y="279.8" width="11.0" height="14.3" fill="#808000"/><rect y="294.0" width="11.0" height="4.2" fill="#C0C0C0"/><rect y="298.0" width="11.0" height="2.1" fill="#E4D8C4"/><rect y="300.0" width="11.0" height="3.8" fill="#283C00"/><rect y="303.7" width="11.0" height="4.2" fill="#808000"/><rect y="307.7" width="11.0" height="3.0" fill="#EC008C"/><rect y="310.5" width="11.0" height="2.6" fill="#FFF599"/><rect y="313.0" width="11.0" height="1.8" fill="#F497C3"/><rect y="314.7" width="11.0" height="1.8" fill="#7FC99C"/><rect y="316.4" width="11.0" height="4.5" fill="#FFFF00"/><rect y="320.7" width="11.0" height="2.0" fill="#EC008C"/><rect y="322.5" width="11.0" height="2.1" fill="#F47800"/><rect y="324.5" width="11.0" height="6.8" fill="#BE8290"/><rect y="331.2" width="11.0" height="1.8" fill="#00B4FF"/><rect y="332.8" width="11.0" height="1.8" fill="#000080"/><rect y="334.5" width="11.0" height="3.1" fill="#A54800"/><rect y="337.5" width="11.0" height="1.8" fill="#0000FF"/><rect y="339.2" width="11.0" height="2.0" fill="#FF0000"/><rect y="341.0" width="11.0" height="3.0" fill="#00FF00"/><rect y="343.8" width="11.0" height="8.3" fill="#6B420C"/><rect y="352.0" width="11.0" height="2.1" fill="#7FEFF5"/><rect y="354.0" width="11.0" height="6.2" fill="#800000"/><rect y="360.0" width="11.0" height="2.8" fill="#8C3CFF"/><rect y="362.6" width="11.0" height="4.5" fill="#C69C6D"/><rect y="367.0" width="11.0" height="9.2" fill="#FFF599"/><rect y="376.0" width="11.0" height="1.6" fill="#A084C0"/><rect y="377.5" width="11.0" height="2.0" fill="#00FF00"/><rect y="379.3" width="11.0" height="22.3" fill="#6B420C"/><rect y="401.5" width="11.0" height="1.6" fill="#000080"/><rect y="403.0" width="11.0" height="2.1" fill="#808000"/><rect y="405.0" width="11.0" height="2.1" fill="#00FF00"/><rect y="407.0" width="11.0" height="4.2" fill="#FF0000"/></g>
<g transform="translate(632.12,0)"><rect y="9.0" width="11.0" height="1.1" fill="#800000"/><rect y="10.0" width="11.0" height="2.1" fill="#808080"/><rect y="12.0" width="11.0" height="3.0" fill="#7CA5D8"/><rect y="14.8" width="11.0" height="22.1" fill="#00FF00"/><rect y="36.7" width="11.0" height="4.4" fill="#808080"/><rect y="41.0" width="11.0" height="2.6" fill="#7FEFF5"/><rect y="43.5" width="11.0" height="3.4" fill="#283C00"/><rect y="46.8" width="11.0" height="7.4" fill="#7FEFF5"/><rect y="54.0" width="11.0" height="1.9" fill="#0000FF"/><rect y="55.8" width="11.0" height="1.6" fill="#EC008C"/><rect y="57.3" width="11.0" height="9.3" fill="#FFF599"/><rect y="66.4" width="11.0" height="3.1" fill="#A084C0"/><rect y="69.4" width="11.0" height="2.2" fill="#FAC080"/><rect y="71.5" width="11.0" height="2.6" fill="#A8E0A8"/><rect y="73.9" width="11.0" height="2.4" fill="#008080"/><rect y="76.2" width="11.0" height="4.7" fill="#808000"/><rect y="80.7" width="11.0" height="1.9" fill="#7FC99C"/><rect y="82.5" width="11.0" height="4.4" fill="#00B4FF"/><rect y="86.8" width="11.0" height="10.4" fill="#EC008C"/><rect y="97.0" width="11.0" height="1.6" fill="#FAC080"/><rect y="98.5" width="11.0" height="1.9" fill="#C0C0C0"/><rect y="100.2" width="11.0" height="1.9" fill="#004800"/><rect y="102.0" width="11.0" height="7.2" fill="#8C3CFF"/><rect y="109.0" width="11.0" height="9.4" fill="#808000"/><rect y="118.3" width="11.0" height="18.4" fill="#C69C6D"/><rect y="136.6" width="11.0" height="4.2" fill="#EC008C"/><rect y="140.7" width="11.0" height="5.5" fill="#C0C0C0"/><rect y="146.0" width="11.0" height="5.3" fill="#00FF00"/><rect y="151.2" width="11.0" height="5.7" fill="#6B420C"/><rect y="156.7" width="11.0" height="1.5" fill="#E4D8C4"/><rect y="158.0" width="11.0" height="13.7" fill="#8F268F"/><rect y="171.6" width="11.0" height="2.1" fill="#0000FF"/><rect y="173.5" width="11.0" height="5.3" fill="#A54800"/><rect y="178.7" width="11.0" height="4.3" fill="#00B4FF"/><rect y="182.8" width="11.0" height="23.3" fill="#A084C0"/><rect y="206.0" width="11.0" height="1.8" fill="#7FC99C"/><rect y="207.7" width="11.0" height="1.5" fill="#6B420C"/><rect y="209.0" width="11.0" height="2.1" fill="#800000"/><rect y="211.0" width="11.0" height="4.0" fill="#808000"/><rect y="214.8" width="11.0" height="3.2" fill="#FAC080"/><rect y="217.9" width="11.0" height="5.9" fill="#800000"/><rect y="223.7" width="11.0" height="3.8" fill="#808000"/><rect y="227.3" width="11.0" height="2.8" fill="#8C3CFF"/><rect y="230.0" width="11.0" height="3.6" fill="#C0C0C0"/><rect y="233.5" width="11.0" height="1.6" fill="#7CA5D8"/><rect y="235.0" width="11.0" height="2.1" fill="#FFF599"/><rect y="237.0" width="11.0" height="7.1" fill="#00FF00"/><rect y="243.9" width="11.0" height="14.6" fill="#808080"/><rect y="258.4" width="11.0" height="5.5" fill="#6B420C"/><rect y="263.7" width="11.0" height="2.0" fill="#EC008C"/><rect y="265.5" width="11.0" height="2.0" fill="#F497C3"/><rect y="267.3" width="11.0" height="8.2" fill="#00FF00"/><rect y="275.3" width="11.0" height="2.3" fill="#BA7E88"/><rect y="277.5" width="11.0" height="3.1" fill="#6B420C"/><rect y="280.5" width="11.0" height="2.6" fill="#008080"/><rect y="283.0" width="11.0" height="2.1" fill="#283C00"/><rect y="285.0" width="11.0" height="2.1" fill="#C69C6D"/><rect y="287.0" width="11.0" height="1.8" fill="#00B4FF"/><rect y="288.6" width="11.0" height="1.9" fill="#E4D8C4"/><rect y="290.4" width="11.0" height="10.3" fill="#808000"/><rect y="300.5" width="11.0" height="4.3" fill="#C0C0C0"/><rect y="304.6" width="11.0" height="4.9" fill="#808000"/><rect y="309.4" width="11.0" height="2.0" fill="#EC008C"/><rect y="311.2" width="11.0" height="2.5" fill="#FFF599"/><rect y="313.5" width="11.0" height="2.1" fill="#8C3CFF"/><rect y="315.5" width="11.0" height="2.1" fill="#F47800"/><rect y="317.5" width="11.0" height="2.5" fill="#008080"/><rect y="319.8" width="11.0" height="4.7" fill="#BE8290"/><rect y="324.3" width="11.0" height="2.6" fill="#00B4FF"/><rect y="326.8" width="11.0" height="2.3" fill="#004800"/><rect y="329.0" width="11.0" height="2.1" fill="#008080"/><rect y="331.0" width="11.0" height="2.6" fill="#0000FF"/><rect y="333.5" width="11.0" height="2.6" fill="#FF0000"/><rect y="336.0" width="11.0" height="3.6" fill="#00FF00"/><rect y="339.5" width="11.0" height="4.2" fill="#A54800"/><rect y="343.5" width="11.0" height="6.7" fill="#6B420C"/><rect y="350.0" width="11.0" height="2.1" fill="#7FEFF5"/><rect y="352.0" width="11.0" height="7.5" fill="#800000"/><rect y="359.3" width="11.0" height="3.5" fill="#8C3CFF"/><rect y="362.6" width="11.0" height="5.3" fill="#C69C6D"/><rect y="367.8" width="11.0" height="9.3" fill="#FFF599"/><rect y="377.0" width="11.0" height="2.0" fill="#A084C0"/><rect y="378.8" width="11.0" height="2.3" fill="#00FF00"/><rect y="381.0" width="11.0" height="24.1" fill="#6B420C"/><rect y="405.0" width="11.0" height="1.3" fill="#000080"/><rect y="406.2" width="11.0" height="1.5" fill="#C69C6D"/><rect y="407.5" width="11.0" height="3.6" fill="#FF0000"/></g>
<g transform="translate(646.15,0)"><rect y="9.0" width="11.0" height="2.0" fill="#0000C8"/><rect y="10.8" width="11.0" height="1.8" fill="#7CA5D8"/><rect y="12.5" width="11.0" height="2.0" fill="#808080"/><rect y="14.3" width="11.0" height="18.8" fill="#00FF00"/><rect y="33.0" width="11.0" height="4.2" fill="#808080"/><rect y="37.0" width="11.0" height="1.9" fill="#BA7E88"/><rect y="38.8" width="11.0" height="1.6" fill="#7FEFF5"/><rect y="40.2" width="11.0" height="2.6" fill="#283C00"/><rect y="42.7" width="11.0" height="1.4" fill="#008080"/><rect y="44.0" width="11.0" height="3.9" fill="#7FEFF5"/><rect y="47.7" width="11.0" height="2.2" fill="#EC008C"/><rect y="49.8" width="11.0" height="3.4" fill="#FFF599"/><rect y="53.0" width="11.0" height="3.4" fill="#A084C0"/><rect y="56.2" width="11.0" height="2.6" fill="#FAC080"/><rect y="58.7" width="11.0" height="1.9" fill="#008080"/><rect y="60.5" width="11.0" height="6.1" fill="#808000"/><rect y="66.4" width="11.0" height="1.9" fill="#7FC99C"/><rect y="68.2" width="11.0" height="6.9" fill="#00B4FF"/><rect y="75.0" width="11.0" height="15.9" fill="#EC008C"/><rect y="90.7" width="11.0" height="2.4" fill="#C0C0C0"/><rect y="93.0" width="11.0" height="2.4" fill="#FAC080"/><rect y="95.2" width="11.0" height="3.9" fill="#8C3CFF"/><rect y="98.9" width="11.0" height="4.9" fill="#808000"/><rect y="103.7" width="11.0" height="18.4" fill="#C69C6D"/><rect y="122.0" width="11.0" height="4.4" fill="#EC008C"/><rect y="126.3" width="11.0" height="4.9" fill="#C0C0C0"/><rect y="131.0" width="11.0" height="6.2" fill="#00FF00"/><rect y="137.0" width="11.0" height="8.2" fill="#6B420C"/><rect y="145.0" width="11.0" height="2.0" fill="#A084C0"/><rect y="146.8" width="11.0" height="16.1" fill="#8F268F"/><rect y="162.8" width="11.0" height="1.3" fill="#0000FF"/><rect y="164.0" width="11.0" height="3.8" fill="#A54800"/><rect y="167.7" width="11.0" height="3.6" fill="#00B4FF"/><rect y="171.2" width="11.0" height="15.0" fill="#A084C0"/><rect y="186.0" width="11.0" height="1.6" fill="#7FC99C"/><rect y="187.5" width="11.0" height="2.1" fill="#008080"/><rect y="189.4" width="11.0" height="3.7" fill="#808000"/><rect y="193.0" width="11.0" height="2.0" fill="#F8957A"/><rect y="194.8" width="11.0" height="1.5" fill="#000080"/><rect y="196.2" width="11.0" height="3.6" fill="#800000"/><rect y="199.7" width="11.0" height="2.9" fill="#808000"/><rect y="202.4" width="11.0" height="1.2" fill="#800000"/><rect y="203.5" width="11.0" height="1.1" fill="#EC008C"/><rect y="204.5" width="11.0" height="3.3" fill="#C0C0C0"/><rect y="207.7" width="11.0" height="1.5" fill="#FFF599"/><rect y="209.0" width="11.0" height="2.1" fill="#7FC99C"/><rect y="211.0" width="11.0" height="2.1" fill="#7CA5D8"/><rect y="213.0" width="11.0" height="5.0" fill="#00FF00"/><rect y="217.8" width="11.0" height="19.3" fill="#808080"/><rect y="237.0" width="11.0" height="6.0" fill="#6B420C"/><rect y="242.8" width="11.0" height="1.9" fill="#EC008C"/><rect y="244.6" width="11.0" height="4.2" fill="#F8957A"/><rect y="248.6" width="11.0" height="8.6" fill="#00FF00"/><rect y="257.0" width="11.0" height="2.1" fill="#BA7E88"/><rect y="259.0" width="11.0" height="2.1" fill="#6B420C"/><rect y="261.0" width="11.0" height="2.1" fill="#008080"/><rect y="263.0" width="11.0" height="2.0" fill="#283C00"/><rect y="264.8" width="11.0" height="1.8" fill="#BA7E88"/><rect y="266.5" width="11.0" height="2.1" fill="#C69C6D"/><rect y="268.5" width="11.0" height="1.6" fill="#800000"/><rect y="270.0" width="11.0" height="1.8" fill="#E4D8C4"/><rect y="271.7" width="11.0" height="13.0" fill="#808000"/><rect y="284.5" width="11.0" height="2.6" fill="#C0C0C0"/><rect y="287.0" width="11.0" height="2.6" fill="#00B4FF"/><rect y="289.5" width="11.0" height="2.3" fill="#6B420C"/><rect y="291.6" width="11.0" height="2.5" fill="#C69C6D"/><rect y="294.0" width="11.0" height="6.7" fill="#808000"/><rect y="300.5" width="11.0" height="4.7" fill="#EC008C"/><rect y="305.0" width="11.0" height="5.2" fill="#FFF599"/><rect y="310.0" width="11.0" height="2.1" fill="#A084C0"/><rect y="312.0" width="11.0" height="2.6" fill="#7FC99C"/><rect y="314.5" width="11.0" height="2.3" fill="#8C3CFF"/><rect y="316.7" width="11.0" height="4.1" fill="#F47800"/><rect y="320.6" width="11.0" height="11.5" fill="#BE8290"/><rect y="332.0" width="11.0" height="3.3" fill="#00B4FF"/><rect y="335.2" width="11.0" height="1.5" fill="#000080"/><rect y="336.5" width="11.0" height="1.6" fill="#8C3CFF"/><rect y="338.0" width="11.0" height="1.6" fill="#00B4FF"/><rect y="339.5" width="11.0" height="1.1" fill="#FF0000"/><rect y="340.5" width="11.0" height="1.1" fill="#00FF00"/><rect y="341.5" width="11.0" height="1.1" fill="#008080"/><rect y="342.5" width="11.0" height="2.3" fill="#A54800"/><rect y="344.7" width="11.0" height="6.5" fill="#6B420C"/><rect y="351.0" width="11.0" height="2.1" fill="#7FEFF5"/><rect y="353.0" width="11.0" height="5.8" fill="#800000"/><rect y="358.7" width="11.0" height="3.1" fill="#8C3CFF"/><rect y="361.6" width="11.0" height="2.3" fill="#F8957A"/><rect y="363.8" width="11.0" height="7.5" fill="#FFF599"/><rect y="371.2" width="11.0" height="2.0" fill="#A084C0"/><rect y="373.0" width="11.0" height="2.1" fill="#00FF00"/><rect y="375.0" width="11.0" height="24.3" fill="#6B420C"/><rect y="399.2" width="11.0" height="1.5" fill="#000080"/><rect y="400.5" width="11.0" height="1.5" fill="#FFF599"/><rect y="401.8" width="11.0" height="1.3" fill="#00FF00"/><rect y="403.0" width="11.0" height="2.1" fill="#808000"/><rect y="405.0" width="11.0" height="2.1" fill="#008000"/><rect y="407.0" width="11.0" height="4.2" fill="#FF0000"/></g>
<g transform="translate(660.18,0)"><rect y="9.0" width="11.0" height="1.1" fill="#800000"/><rect y="10.0" width="11.0" height="1.6" fill="#7CA5D8"/><rect y="11.5" width="11.0" height="2.1" fill="#808080"/><rect y="13.4" width="11.0" height="13.6" fill="#00FF00"/><rect y="26.9" width="11.0" height="2.8" fill="#808080"/><rect y="29.5" width="11.0" height="1.5" fill="#BA7E88"/><rect y="30.8" width="11.0" height="5.1" fill="#283C00"/><rect y="35.8" width="11.0" height="1.4" fill="#EC008C"/><rect y="37.0" width="11.0" height="1.9" fill="#7FC99C"/><rect y="38.8" width="11.0" height="5.2" fill="#7FEFF5"/><rect y="43.8" width="11.0" height="1.4" fill="#E4D8C4"/><rect y="45.0" width="11.0" height="1.9" fill="#0000FF"/><rect y="46.8" width="11.0" height="2.9" fill="#FFF599"/><rect y="49.5" width="11.0" height="3.4" fill="#A084C0"/><rect y="52.7" width="11.0" height="2.4" fill="#008080"/><rect y="55.0" width="11.0" height="4.4" fill="#808000"/><rect y="59.3" width="11.0" height="2.1" fill="#C69C6D"/><rect y="61.2" width="11.0" height="1.4" fill="#FAC080"/><rect y="62.5" width="11.0" height="6.2" fill="#00B4FF"/><rect y="68.5" width="11.0" height="8.7" fill="#EC008C"/><rect y="77.0" width="11.0" height="2.4" fill="#FAC080"/><rect y="79.3" width="11.0" height="1.4" fill="#E4D8C4"/><rect y="80.5" width="11.0" height="1.6" fill="#808000"/><rect y="82.0" width="11.0" height="1.4" fill="#004800"/><rect y="83.3" width="11.0" height="4.6" fill="#8C3CFF"/><rect y="87.7" width="11.0" height="4.0" fill="#808000"/><rect y="91.6" width="11.0" height="12.6" fill="#C69C6D"/><rect y="104.0" width="11.0" height="1.9" fill="#EC008C"/><rect y="105.8" width="11.0" height="4.8" fill="#C0C0C0"/><rect y="110.4" width="11.0" height="1.4" fill="#FAC080"/><rect y="111.7" width="11.0" height="2.2" fill="#00FF00"/><rect y="113.8" width="11.0" height="5.2" fill="#6B420C"/><rect y="118.8" width="11.0" height="1.4" fill="#E4D8C4"/><rect y="120.0" width="11.0" height="10.8" fill="#8F268F"/><rect y="130.7" width="11.0" height="5.5" fill="#A54800"/><rect y="136.0" width="11.0" height="2.6" fill="#00B4FF"/><rect y="138.4" width="11.0" height="10.7" fill="#A084C0"/><rect y="149.0" width="11.0" height="2.3" fill="#FF0000"/><rect y="151.2" width="11.0" height="3.4" fill="#004800"/><rect y="154.4" width="11.0" height="7.2" fill="#808000"/><rect y="161.5" width="11.0" height="2.1" fill="#EC008C"/><rect y="163.5" width="11.0" height="2.5" fill="#C0C0C0"/><rect y="165.8" width="11.0" height="0.8" fill="#008080"/><rect y="166.5" width="11.0" height="1.1" fill="#F497C3"/><rect y="167.5" width="11.0" height="1.3" fill="#C0C0C0"/><rect y="168.7" width="11.0" height="2.0" fill="#004800"/><rect y="170.5" width="11.0" height="1.8" fill="#008080"/><rect y="172.2" width="11.0" height="4.0" fill="#800000"/><rect y="176.0" width="11.0" height="3.5" fill="#808000"/><rect y="179.3" width="11.0" height="1.3" fill="#E4D8C4"/><rect y="180.5" width="11.0" height="2.1" fill="#800000"/><rect y="182.5" width="11.0" height="2.1" fill="#FFF599"/><rect y="184.5" width="11.0" height="2.3" fill="#7CA5D8"/><rect y="186.7" width="11.0" height="4.7" fill="#00FF00"/><rect y="191.2" width="11.0" height="15.8" fill="#808080"/><rect y="206.8" width="11.0" height="9.9" fill="#6B420C"/><rect y="216.6" width="11.0" height="2.0" fill="#A084C0"/><rect y="218.4" width="11.0" height="13.4" fill="#00FF00"/><rect y="231.7" width="11.0" height="2.0" fill="#C69C6D"/><rect y="233.5" width="11.0" height="2.1" fill="#6B420C"/><rect y="235.5" width="11.0" height="2.1" fill="#C69C6D"/><rect y="237.5" width="11.0" height="1.6" fill="#A54800"/><rect y="239.0" width="11.0" height="3.6" fill="#008080"/><rect y="242.5" width="11.0" height="1.6" fill="#E4D8C4"/><rect y="244.0" width="11.0" height="3.8" fill="#C69C6D"/><rect y="247.7" width="11.0" height="1.5" fill="#7CA5D8"/><rect y="249.0" width="11.0" height="2.1" fill="#008080"/><rect y="251.0" width="11.0" height="16.3" fill="#808000"/><rect y="267.2" width="11.0" height="2.5" fill="#C0C0C0"/><rect y="269.5" width="11.0" height="2.1" fill="#E4D8C4"/><rect y="271.5" width="11.0" height="1.6" fill="#FFF599"/><rect y="273.0" width="11.0" height="2.1" fill="#283C00"/><rect y="275.0" width="11.0" height="2.6" fill="#808000"/><rect y="277.5" width="11.0" height="2.6" fill="#EC008C"/><rect y="280.0" width="11.0" height="1.6" fill="#FFF599"/><rect y="281.5" width="11.0" height="1.8" fill="#7FC99C"/><rect y="283.2" width="11.0" height="2.0" fill="#8C3CFF"/><rect y="285.0" width="11.0" height="1.6" fill="#F47800"/><rect y="286.5" width="11.0" height="7.7" fill="#BE8290"/><rect y="294.0" width="11.0" height="2.8" fill="#00B4FF"/><rect y="296.6" width="11.0" height="4.0" fill="#6B420C"/><rect y="300.5" width="11.0" height="2.0" fill="#8C3CFF"/><rect y="302.3" width="11.0" height="1.3" fill="#0000FF"/><rect y="303.5" width="11.0" height="1.5" fill="#008080"/><rect y="304.8" width="11.0" height="3.5" fill="#008000"/><rect y="308.2" width="11.0" height="2.5" fill="#00FF00"/><rect y="310.5" width="11.0" height="15.7" fill="#A54800"/><rect y="326.0" width="11.0" height="6.2" fill="#6B420C"/><rect y="332.0" width="11.0" height="2.6" fill="#7FEFF5"/><rect y="334.5" width="11.0" height="9.3" fill="#800000"/><rect y="343.7" width="11.0" height="2.6" fill="#8C3CFF"/><rect y="346.2" width="11.0" height="1.6" fill="#C69C6D"/><rect y="347.7" width="11.0" height="25.6" fill="#FFF599"/><rect y="373.2" width="11.0" height="3.0" fill="#A084C0"/><rect y="376.0" width="11.0" height="1.6" fill="#00FF00"/><rect y="377.5" width="11.0" height="22.6" fill="#6B420C"/><rect y="400.0" width="11.0" height="3.1" fill="#008000"/><rect y="403.0" width="11.0" height="2.1" fill="#F8957A"/><rect y="405.0" width="11.0" height="1.6" fill="#008080"/><rect y="406.5" width="11.0" height="1.6" fill="#008000"/><rect y="408.0" width="11.0" height="3.1" fill="#FF0000"/></g>
</g>
<path class="ax" d="M77.9 9.1V411.6"/>
<path class="ax" d="M72.9 9.6H77.9"/><text class="yt" x="67.8" y="14.1" text-anchor="end">100%</text>
<path class="ax" d="M72.9 89.9H77.9"/><text class="yt" x="67.8" y="94.4" text-anchor="end">80%</text>
<path class="ax" d="M72.9 170.2H77.9"/><text class="yt" x="67.8" y="174.7" text-anchor="end">60%</text>
<path class="ax" d="M72.9 250.5H77.9"/><text class="yt" x="67.8" y="255.0" text-anchor="end">40%</text>
<path class="ax" d="M72.9 330.8H77.9"/><text class="yt" x="67.8" y="335.3" text-anchor="end">20%</text>
<path class="ax" d="M72.9 411.1H77.9"/><text class="yt" x="67.8" y="415.6" text-anchor="end">0%</text>
<text class="yt" style="font-size:13.9px" transform="translate(24,210.8) rotate(-90)" text-anchor="middle">Relative abundance (%)</text>
<text class="xl" transform="translate(93.4,414.6) rotate(-90) scale(0.87,1)" text-anchor="end">R_A3_</text>
<text class="xl" transform="translate(107.4,414.6) rotate(-90) scale(0.87,1)" text-anchor="end">R_A4_</text>
<text class="xl" transform="translate(121.4,414.6) rotate(-90) scale(0.87,1)" text-anchor="end">R_A7</text>
<text class="xl" transform="translate(135.4,414.6) rotate(-90) scale(0.87,1)" text-anchor="end">R_A8_</text>
<text class="xl" transform="translate(149.5,414.6) rotate(-90) scale(0.87,1)" text-anchor="end">R_A9_</text>
<text class="xl" transform="translate(163.5,414.6) rotate(-90) scale(0.87,1)" text-anchor="end">R_D1_</text>
<text class="xl" transform="translate(177.5,414.6) rotate(-90) scale(0.87,1)" text-anchor="end">R_D2</text>
<text class="xl" transform="translate(191.6,414.6) rotate(-90) scale(0.87,1)" text-anchor="end">R_D2_</text>
<text class="xl" transform="translate(205.6,414.6) rotate(-90) scale(0.87,1)" text-anchor="end">R_D3_</text>
<text class="xl" transform="translate(219.6,414.6) rotate(-90) scale(0.87,1)" text-anchor="end">R_D4</text>
<text class="xl" transform="translate(233.7,414.6) rotate(-90) scale(0.87,1)" text-anchor="end">R_D4_</text>
<text class="xl" transform="translate(247.7,414.6) rotate(-90) scale(0.87,1)" text-anchor="end">R_D5</text>
<text class="xl" transform="translate(261.7,414.6) rotate(-90) scale(0.87,1)" text-anchor="end">R_D5_</text>
<text class="xl" transform="translate(275.7,414.6) rotate(-90) scale(0.87,1)" text-anchor="end">R_D6</text>
<text class="xl" transform="translate(289.8,414.6) rotate(-90) scale(0.87,1)" text-anchor="end">R_D6_</text>
<text class="xl" transform="translate(303.8,414.6) rotate(-90) scale(0.87,1)" text-anchor="end">R_D7</text>
<text class="xl" transform="translate(317.8,414.6) rotate(-90) scale(0.87,1)" text-anchor="end">R_D7_</text>
<text class="xl" transform="translate(331.9,414.6) rotate(-90) scale(0.87,1)" text-anchor="end">R_D8</text>
<text class="xl" transform="translate(345.9,414.6) rotate(-90) scale(0.87,1)" text-anchor="end">R_D8_</text>
<text class="xl" transform="translate(359.9,414.6) rotate(-90) scale(0.87,1)" text-anchor="end">R_D9</text>
<text class="xl" transform="translate(373.9,414.6) rotate(-90) scale(0.87,1)" text-anchor="end">R_D9_</text>
<text class="xl" transform="translate(388.0,414.6) rotate(-90) scale(0.87,1)" text-anchor="end">R_R1</text>
<text class="xl" transform="translate(402.0,414.6) rotate(-90) scale(0.87,1)" text-anchor="end">R_R1_</text>
<text class="xl" transform="translate(416.0,414.6) rotate(-90) scale(0.87,1)" text-anchor="end">R_R2_</text>
<text class="xl" transform="translate(430.1,414.6) rotate(-90) scale(0.87,1)" text-anchor="end">R_R3</text>
<text class="xl" transform="translate(444.1,414.6) rotate(-90) scale(0.87,1)" text-anchor="end">R_R3_</text>
<text class="xl" transform="translate(458.1,414.6) rotate(-90) scale(0.87,1)" text-anchor="end">R_R4</text>
<text class="xl" transform="translate(472.2,414.6) rotate(-90) scale(0.87,1)" text-anchor="end">R_R4_</text>
<text class="xl" transform="translate(486.2,414.6) rotate(-90) scale(0.87,1)" text-anchor="end">R_R5_</text>
<text class="xl" transform="translate(500.2,414.6) rotate(-90) scale(0.87,1)" text-anchor="end">R_R6_</text>
<text class="xl" transform="translate(514.2,414.6) rotate(-90) scale(0.87,1)" text-anchor="end">R_R7</text>
<text class="xl" transform="translate(528.3,414.6) rotate(-90) scale(0.87,1)" text-anchor="end">R_R7_</text>
<text class="xl" transform="translate(542.3,414.6) rotate(-90) scale(0.87,1)" text-anchor="end">R_R8_</text>
<text class="xl" transform="translate(556.3,414.6) rotate(-90) scale(0.87,1)" text-anchor="end">R_R9</text>
<text class="xl" transform="translate(570.4,414.6) rotate(-90) scale(0.87,1)" text-anchor="end">R_R9_</text>
<text class="xl" transform="translate(584.4,414.6) rotate(-90) scale(0.87,1)" text-anchor="end">R_S1</text>
<text class="xl" transform="translate(598.4,414.6) rotate(-90) scale(0.87,1)" text-anchor="end">R_S2</text>
<text class="xl" transform="translate(612.5,414.6) rotate(-90) scale(0.87,1)" text-anchor="end">R_S3</text>
<text class="xl" transform="translate(626.5,414.6) rotate(-90) scale(0.87,1)" text-anchor="end">R_S4</text>
<text class="xl" transform="translate(640.5,414.6) rotate(-90) scale(0.87,1)" text-anchor="end">R_S5</text>
<text class="xl" transform="translate(654.5,414.6) rotate(-90) scale(0.87,1)" text-anchor="end">R_S6</text>
<text class="xl" transform="translate(668.6,414.6) rotate(-90) scale(0.87,1)" text-anchor="end">R_S7</text>
<path class="bk" d="M87.1 438.3V439.3Q87.1 441.5 89.3 441.5H150.4Q152.6 441.5 152.6 439.3V438.3M119.5 441.5V449.0"/>
<path class="bk" d="M162.8 438.3V440.2Q162.8 442.4 165.0 442.4H373.1Q375.3 442.4 375.3 440.2V438.3M269.0 442.4V451.0"/>
<path class="bk" d="M384.6 437.4V439.8Q384.6 442.0 386.8 442.0H563.8Q566.0 442.0 566.0 439.8V437.4M473.8 442.0V452.0"/>
<path class="bk" d="M573.2 437.5V438.9Q573.2 441.1 575.4 441.1H662.3Q664.5 441.1 664.5 438.9V437.5M618.7 441.1V448.7"/>
<text class="gl" x="121.9" y="463" text-anchor="middle">Rice aerial part</text>
<text class="gl" x="271.0" y="463" text-anchor="middle">Duckweed</text>
<text class="gl" x="473.0" y="463" text-anchor="middle">Rice root</text>
<text class="gl" x="626.6" y="463" text-anchor="middle">Soil</text>
</svg>
</body></html>
